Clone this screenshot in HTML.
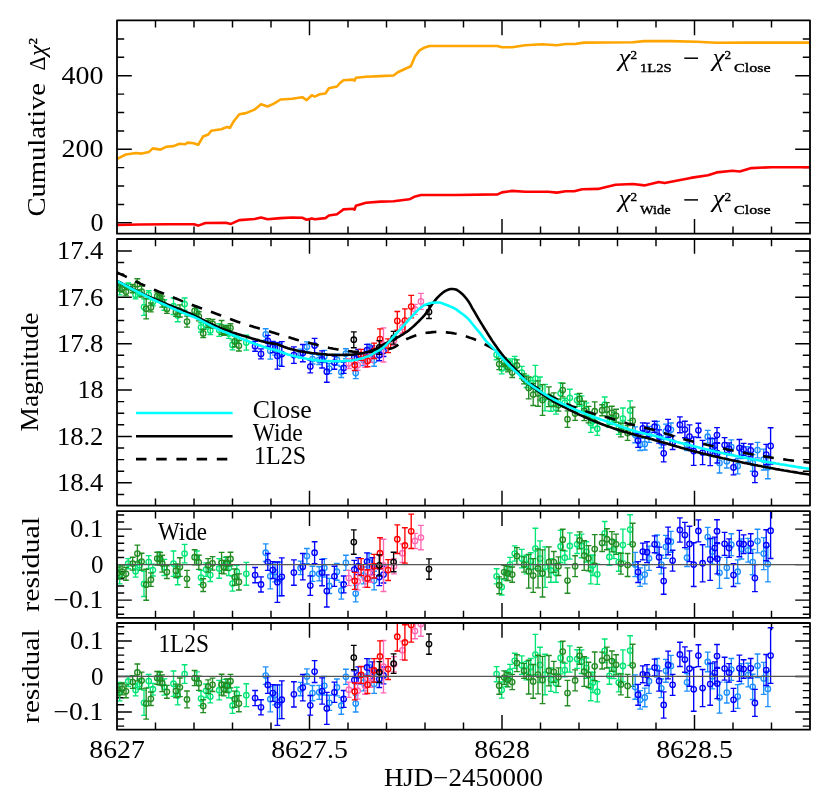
<!DOCTYPE html>
<html><head><meta charset="utf-8"><title>plot</title>
<style>html,body{margin:0;padding:0;background:#fff}svg{display:block}text{font-family:"Liberation Serif",serif;fill:#000}</style></head><body>
<svg width="830" height="800" viewBox="0 0 830 800">
<rect width="830" height="800" fill="#fff"/>
<defs>
<clipPath id="c1"><rect x="117.0" y="20.4" width="693.0" height="213.3"/></clipPath>
<clipPath id="c2"><rect x="117.0" y="239.0" width="693.0" height="266.6"/></clipPath>
<clipPath id="c3"><rect x="117.0" y="511.2" width="693.0" height="106.7"/></clipPath>
<clipPath id="c4"><rect x="117.0" y="623.0" width="693.0" height="106.7"/></clipPath>
</defs>
<g fill="none" stroke="#000" stroke-width="1.45">
<path d="M155.5 20.4v7.2M155.5 233.7v-7.2 M194.0 20.4v7.2M194.0 233.7v-7.2 M232.5 20.4v7.2M232.5 233.7v-7.2 M271.0 20.4v7.2M271.0 233.7v-7.2 M309.5 20.4v14.8M309.5 233.7v-14.8 M348.0 20.4v7.2M348.0 233.7v-7.2 M386.5 20.4v7.2M386.5 233.7v-7.2 M425.0 20.4v7.2M425.0 233.7v-7.2 M463.5 20.4v7.2M463.5 233.7v-7.2 M502.0 20.4v14.8M502.0 233.7v-14.8 M540.5 20.4v7.2M540.5 233.7v-7.2 M579.0 20.4v7.2M579.0 233.7v-7.2 M617.5 20.4v7.2M617.5 233.7v-7.2 M656.0 20.4v7.2M656.0 233.7v-7.2 M694.5 20.4v14.8M694.5 233.7v-14.8 M733.0 20.4v7.2M733.0 233.7v-7.2 M771.5 20.4v7.2M771.5 233.7v-7.2"/>
<path d="M117.0 222.8h14.8M810.0 222.8h-14.8 M117.0 204.4h7.2M810.0 204.4h-7.2 M117.0 186.0h7.2M810.0 186.0h-7.2 M117.0 167.6h7.2M810.0 167.6h-7.2 M117.0 149.2h14.8M810.0 149.2h-14.8 M117.0 130.9h7.2M810.0 130.9h-7.2 M117.0 112.5h7.2M810.0 112.5h-7.2 M117.0 94.1h7.2M810.0 94.1h-7.2 M117.0 75.7h14.8M810.0 75.7h-14.8 M117.0 57.3h7.2M810.0 57.3h-7.2 M117.0 38.9h7.2M810.0 38.9h-7.2"/>
<path d="M155.5 239.0v7.2M155.5 505.6v-7.2 M194.0 239.0v7.2M194.0 505.6v-7.2 M232.5 239.0v7.2M232.5 505.6v-7.2 M271.0 239.0v7.2M271.0 505.6v-7.2 M309.5 239.0v14.8M309.5 505.6v-14.8 M348.0 239.0v7.2M348.0 505.6v-7.2 M386.5 239.0v7.2M386.5 505.6v-7.2 M425.0 239.0v7.2M425.0 505.6v-7.2 M463.5 239.0v7.2M463.5 505.6v-7.2 M502.0 239.0v14.8M502.0 505.6v-14.8 M540.5 239.0v7.2M540.5 505.6v-7.2 M579.0 239.0v7.2M579.0 505.6v-7.2 M617.5 239.0v7.2M617.5 505.6v-7.2 M656.0 239.0v7.2M656.0 505.6v-7.2 M694.5 239.0v14.8M694.5 505.6v-14.8 M733.0 239.0v7.2M733.0 505.6v-7.2 M771.5 239.0v7.2M771.5 505.6v-7.2"/>
<path d="M117.0 250.9h14.8M810.0 250.9h-14.8 M117.0 262.5h7.2M810.0 262.5h-7.2 M117.0 274.1h7.2M810.0 274.1h-7.2 M117.0 285.7h7.2M810.0 285.7h-7.2 M117.0 297.3h14.8M810.0 297.3h-14.8 M117.0 308.9h7.2M810.0 308.9h-7.2 M117.0 320.5h7.2M810.0 320.5h-7.2 M117.0 332.1h7.2M810.0 332.1h-7.2 M117.0 343.7h14.8M810.0 343.7h-14.8 M117.0 355.3h7.2M810.0 355.3h-7.2 M117.0 366.9h7.2M810.0 366.9h-7.2 M117.0 378.4h7.2M810.0 378.4h-7.2 M117.0 390.0h14.8M810.0 390.0h-14.8 M117.0 401.6h7.2M810.0 401.6h-7.2 M117.0 413.2h7.2M810.0 413.2h-7.2 M117.0 424.8h7.2M810.0 424.8h-7.2 M117.0 436.4h14.8M810.0 436.4h-14.8 M117.0 448.0h7.2M810.0 448.0h-7.2 M117.0 459.6h7.2M810.0 459.6h-7.2 M117.0 471.2h7.2M810.0 471.2h-7.2 M117.0 482.8h14.8M810.0 482.8h-14.8 M117.0 494.4h7.2M810.0 494.4h-7.2"/>
<path d="M155.5 511.2v7.2M155.5 617.9v-7.2 M194.0 511.2v7.2M194.0 617.9v-7.2 M232.5 511.2v7.2M232.5 617.9v-7.2 M271.0 511.2v7.2M271.0 617.9v-7.2 M309.5 511.2v14.8M309.5 617.9v-14.8 M348.0 511.2v7.2M348.0 617.9v-7.2 M386.5 511.2v7.2M386.5 617.9v-7.2 M425.0 511.2v7.2M425.0 617.9v-7.2 M463.5 511.2v7.2M463.5 617.9v-7.2 M502.0 511.2v14.8M502.0 617.9v-14.8 M540.5 511.2v7.2M540.5 617.9v-7.2 M579.0 511.2v7.2M579.0 617.9v-7.2 M617.5 511.2v7.2M617.5 617.9v-7.2 M656.0 511.2v7.2M656.0 617.9v-7.2 M694.5 511.2v14.8M694.5 617.9v-14.8 M733.0 511.2v7.2M733.0 617.9v-7.2 M771.5 511.2v7.2M771.5 617.9v-7.2"/>
<path d="M117.0 614.3h7.2M810.0 614.3h-7.2 M117.0 607.2h7.2M810.0 607.2h-7.2 M117.0 600.1h14.8M810.0 600.1h-14.8 M117.0 593.0h7.2M810.0 593.0h-7.2 M117.0 585.9h7.2M810.0 585.9h-7.2 M117.0 578.8h7.2M810.0 578.8h-7.2 M117.0 571.7h7.2M810.0 571.7h-7.2 M117.0 564.6h14.8M810.0 564.6h-14.8 M117.0 557.5h7.2M810.0 557.5h-7.2 M117.0 550.4h7.2M810.0 550.4h-7.2 M117.0 543.3h7.2M810.0 543.3h-7.2 M117.0 536.2h7.2M810.0 536.2h-7.2 M117.0 529.1h14.8M810.0 529.1h-14.8 M117.0 522.0h7.2M810.0 522.0h-7.2 M117.0 514.9h7.2M810.0 514.9h-7.2"/>
<path d="M155.5 623.0v7.2M155.5 729.8v-7.2 M194.0 623.0v7.2M194.0 729.8v-7.2 M232.5 623.0v7.2M232.5 729.8v-7.2 M271.0 623.0v7.2M271.0 729.8v-7.2 M309.5 623.0v14.8M309.5 729.8v-14.8 M348.0 623.0v7.2M348.0 729.8v-7.2 M386.5 623.0v7.2M386.5 729.8v-7.2 M425.0 623.0v7.2M425.0 729.8v-7.2 M463.5 623.0v7.2M463.5 729.8v-7.2 M502.0 623.0v14.8M502.0 729.8v-14.8 M540.5 623.0v7.2M540.5 729.8v-7.2 M579.0 623.0v7.2M579.0 729.8v-7.2 M617.5 623.0v7.2M617.5 729.8v-7.2 M656.0 623.0v7.2M656.0 729.8v-7.2 M694.5 623.0v14.8M694.5 729.8v-14.8 M733.0 623.0v7.2M733.0 729.8v-7.2 M771.5 623.0v7.2M771.5 729.8v-7.2"/>
<path d="M117.0 726.1h7.2M810.0 726.1h-7.2 M117.0 719.0h7.2M810.0 719.0h-7.2 M117.0 711.9h14.8M810.0 711.9h-14.8 M117.0 704.8h7.2M810.0 704.8h-7.2 M117.0 697.7h7.2M810.0 697.7h-7.2 M117.0 690.6h7.2M810.0 690.6h-7.2 M117.0 683.5h7.2M810.0 683.5h-7.2 M117.0 676.4h14.8M810.0 676.4h-14.8 M117.0 669.3h7.2M810.0 669.3h-7.2 M117.0 662.2h7.2M810.0 662.2h-7.2 M117.0 655.1h7.2M810.0 655.1h-7.2 M117.0 648.0h7.2M810.0 648.0h-7.2 M117.0 640.9h14.8M810.0 640.9h-14.8 M117.0 633.8h7.2M810.0 633.8h-7.2 M117.0 626.7h7.2M810.0 626.7h-7.2"/>
</g>
<g clip-path="url(#c1)" fill="none" stroke-linejoin="round" stroke-width="2.6">
<polyline stroke="#ffa500" points="117.2,158.8 125.9,154.5 136.0,153.0 141.8,153.6 149.0,151.9 152.8,148.4 160.6,149.6 166.4,146.7 173.6,146.1 179.4,143.8 185.2,144.3 187.5,142.6 193.9,143.2 198.2,144.9 203.1,136.5 208.3,134.5 211.2,130.8 221.3,129.3 227.1,127.0 230.0,127.9 233.8,121.2 239.3,114.3 245.9,113.1 254.6,109.6 261.0,104.2 267.6,106.5 273.4,103.9 280.6,99.5 292.2,98.7 302.3,97.2 306.6,100.1 311.8,95.2 314.7,96.6 319.7,94.3 325.4,93.5 328.9,88.2 337.0,86.5 340.0,83.0 343.5,80.2 353.0,79.6 354.5,80.7 355.9,77.8 366.0,76.7 380.5,76.1 393.5,75.5 397.8,72.3 410.8,66.3 415.2,56.1 419.5,50.4 423.9,47.8 429.6,46.0 455.7,46.0 497.6,46.0 501.9,47.2 512.1,47.2 525.1,45.2 542.4,44.3 556.9,45.2 565.6,44.0 575.0,44.0 583.7,42.6 632.8,42.3 644.4,41.1 670.4,41.1 696.5,41.7 716.7,42.8 748.5,42.6 809.2,42.6"/>
<polyline stroke="#ff0000" points="117.2,225.0 139.0,224.5 167.8,224.2 193.9,224.2 198.2,225.6 205.4,223.0 225.7,222.7 230.9,223.9 239.3,220.1 254.6,219.0 261.0,217.5 267.6,219.2 280.6,218.1 292.2,217.5 302.3,217.8 306.6,219.8 311.8,218.4 314.7,219.2 325.4,218.1 328.9,215.5 337.0,214.3 340.0,212.0 343.5,209.4 353.0,208.8 354.5,209.7 355.9,205.7 366.0,202.8 380.5,201.6 393.5,201.3 409.4,199.3 415.2,196.4 421.0,195.0 455.7,195.0 497.6,194.4 501.9,192.4 512.1,190.9 525.1,191.8 548.2,191.8 556.9,192.6 565.6,191.2 574.2,191.2 582.2,189.2 598.1,188.9 615.5,184.8 632.8,184.0 644.4,185.4 658.9,181.9 664.6,183.1 690.7,177.9 708.0,175.3 716.7,172.4 732.6,170.7 739.8,171.5 751.4,168.1 771.6,167.2 809.2,167.2"/>
</g>
<g clip-path="url(#c2)" fill="none" stroke-width="1.35">
<g stroke="#00e676"><path d="M119.7 282.8V294.9M116.8 282.8H122.6M116.8 294.9H122.6"/><circle cx="119.7" cy="288.9" r="2.7"/></g>
<g stroke="#00e676"><path d="M128.2 282.9V289.5M125.3 282.9H131.1M125.3 289.5H131.1"/><circle cx="128.2" cy="286.2" r="2.7"/></g>
<g stroke="#00e676"><path d="M135.6 291.1V298.8M132.7 291.1H138.5M132.7 298.8H138.5"/><circle cx="135.6" cy="294.9" r="2.7"/></g>
<g stroke="#00e676"><path d="M139.5 289.6V296.2M136.6 289.6H142.4M136.6 296.2H142.4"/><circle cx="139.5" cy="292.9" r="2.7"/></g>
<g stroke="#00e676"><path d="M144.0 298.9V315.4M141.1 298.9H146.9M141.1 315.4H146.9"/><circle cx="144.0" cy="307.1" r="2.7"/></g>
<g stroke="#00e676"><path d="M148.7 290.7V299.1M145.8 290.7H151.6M145.8 299.1H151.6"/><circle cx="148.7" cy="294.9" r="2.7"/></g>
<g stroke="#00e676"><path d="M152.9 298.1V305.8M150.0 298.1H155.8M150.0 305.8H155.8"/><circle cx="152.9" cy="302.0" r="2.7"/></g>
<g stroke="#00e676"><path d="M159.2 292.7V301.5M156.3 292.7H162.1M156.3 301.5H162.1"/><circle cx="159.2" cy="297.1" r="2.7"/></g>
<g stroke="#00e676"><path d="M164.4 299.7V310.2M161.5 299.7H167.3M161.5 310.2H167.3"/><circle cx="164.4" cy="305.0" r="2.7"/></g>
<g stroke="#00e676"><path d="M173.5 298.0V314.5M170.6 298.0H176.4M170.6 314.5H176.4"/><circle cx="173.5" cy="306.2" r="2.7"/></g>
<g stroke="#00e676"><path d="M177.7 309.6V321.7M174.8 309.6H180.6M174.8 321.7H180.6"/><circle cx="177.7" cy="315.6" r="2.7"/></g>
<g stroke="#00e676"><path d="M184.6 298.0V310.2M181.7 298.0H187.5M181.7 310.2H187.5"/><circle cx="184.6" cy="304.1" r="2.7"/></g>
<g stroke="#00e676"><path d="M196.8 307.9V316.7M193.9 307.9H199.7M193.9 316.7H199.7"/><circle cx="196.8" cy="312.3" r="2.7"/></g>
<g stroke="#00e676"><path d="M201.0 322.7V332.0M198.1 322.7H203.9M198.1 332.0H203.9"/><circle cx="201.0" cy="327.3" r="2.7"/></g>
<g stroke="#00e676"><path d="M206.1 320.3V329.1M203.2 320.3H209.0M203.2 329.1H209.0"/><circle cx="206.1" cy="324.7" r="2.7"/></g>
<g stroke="#00e676"><path d="M210.3 326.2V334.6M207.4 326.2H213.2M207.4 334.6H213.2"/><circle cx="210.3" cy="330.4" r="2.7"/></g>
<g stroke="#00e676"><path d="M219.2 323.7V336.4M216.3 323.7H222.1M216.3 336.4H222.1"/><circle cx="219.2" cy="330.0" r="2.7"/></g>
<g stroke="#00e676"><path d="M225.5 325.2V333.6M222.6 325.2H228.4M222.6 333.6H228.4"/><circle cx="225.5" cy="329.4" r="2.7"/></g>
<g stroke="#00e676"><path d="M228.8 328.4V338.3M225.9 328.4H231.7M225.9 338.3H231.7"/><circle cx="228.8" cy="333.4" r="2.7"/></g>
<g stroke="#00e676"><path d="M232.5 339.9V349.8M229.6 339.9H235.4M229.6 349.8H235.4"/><circle cx="232.5" cy="344.9" r="2.7"/></g>
<g stroke="#00e676"><path d="M236.8 334.3V342.7M233.9 334.3H239.7M233.9 342.7H239.7"/><circle cx="236.8" cy="338.5" r="2.7"/></g>
<g stroke="#00e676"><path d="M246.3 335.2V350.1M243.4 335.2H249.2M243.4 350.1H249.2"/><circle cx="246.3" cy="342.6" r="2.7"/></g>
<g stroke="#00e676"><path d="M496.6 349.8V359.7M493.7 349.8H499.5M493.7 359.7H499.5"/><circle cx="496.6" cy="354.8" r="2.7"/></g>
<g stroke="#00e676"><path d="M501.7 363.2V373.8M498.8 363.2H504.6M498.8 373.8H504.6"/><circle cx="501.7" cy="368.5" r="2.7"/></g>
<g stroke="#00e676"><path d="M506.3 360.0V370.0M503.4 360.0H509.2M503.4 370.0H509.2"/><circle cx="506.3" cy="365.0" r="2.7"/></g>
<g stroke="#00e676"><path d="M510.0 358.9V368.2M507.1 358.9H512.9M507.1 368.2H512.9"/><circle cx="510.0" cy="363.6" r="2.7"/></g>
<g stroke="#00e676"><path d="M514.7 356.4V366.4M511.8 356.4H517.6M511.8 366.4H517.6"/><circle cx="514.7" cy="361.4" r="2.7"/></g>
<g stroke="#00e676"><path d="M521.8 366.4V378.5M518.9 366.4H524.7M518.9 378.5H524.7"/><circle cx="521.8" cy="372.5" r="2.7"/></g>
<g stroke="#00e676"><path d="M526.5 375.4V387.5M523.6 375.4H529.4M523.6 387.5H529.4"/><circle cx="526.5" cy="381.5" r="2.7"/></g>
<g stroke="#00e676"><path d="M530.7 377.6V388.6M527.8 377.6H533.6M527.8 388.6H533.6"/><circle cx="530.7" cy="383.1" r="2.7"/></g>
<g stroke="#00e676"><path d="M535.4 365.4V391.8M532.5 365.4H538.3M532.5 391.8H538.3"/><circle cx="535.4" cy="378.6" r="2.7"/></g>
<g stroke="#00e676"><path d="M540.0 377.0V400.1M537.1 377.0H542.9M537.1 400.1H542.9"/><circle cx="540.0" cy="388.6" r="2.7"/></g>
<g stroke="#00e676"><path d="M545.0 384.3V410.8M542.1 384.3H547.9M542.1 410.8H547.9"/><circle cx="545.0" cy="397.5" r="2.7"/></g>
<g stroke="#00e676"><path d="M550.9 395.7V411.2M548.0 395.7H553.8M548.0 411.2H553.8"/><circle cx="550.9" cy="403.5" r="2.7"/></g>
<g stroke="#00e676"><path d="M556.0 402.0V414.1M553.1 402.0H558.9M553.1 414.1H558.9"/><circle cx="556.0" cy="408.1" r="2.7"/></g>
<g stroke="#00e676"><path d="M560.6 382.8V403.8M557.7 382.8H563.5M557.7 403.8H563.5"/><circle cx="560.6" cy="393.3" r="2.7"/></g>
<g stroke="#00e676"><path d="M564.8 398.5V407.3M561.9 398.5H567.7M561.9 407.3H567.7"/><circle cx="564.8" cy="402.9" r="2.7"/></g>
<g stroke="#00e676"><path d="M569.8 389.2V406.4M566.9 389.2H572.7M566.9 406.4H572.7"/><circle cx="569.8" cy="397.8" r="2.7"/></g>
<g stroke="#00e676"><path d="M577.1 394.2V406.3M574.2 394.2H580.0M574.2 406.3H580.0"/><circle cx="577.1" cy="400.3" r="2.7"/></g>
<g stroke="#00e676"><path d="M581.6 395.8V411.2M578.7 395.8H584.5M578.7 411.2H584.5"/><circle cx="581.6" cy="403.5" r="2.7"/></g>
<g stroke="#00e676"><path d="M586.4 402.9V416.1M583.5 402.9H589.3M583.5 416.1H589.3"/><circle cx="586.4" cy="409.5" r="2.7"/></g>
<g stroke="#00e676"><path d="M590.8 413.6V432.4M587.9 413.6H593.7M587.9 432.4H593.7"/><circle cx="590.8" cy="423.0" r="2.7"/></g>
<g stroke="#00e676"><path d="M592.9 414.5V427.7M590.0 414.5H595.8M590.0 427.7H595.8"/><circle cx="592.9" cy="421.1" r="2.7"/></g>
<g stroke="#00e676"><path d="M597.3 422.1V435.3M594.4 422.1H600.2M594.4 435.3H600.2"/><circle cx="597.3" cy="428.7" r="2.7"/></g>
<g stroke="#00e676"><path d="M604.7 397.0V412.5M601.8 397.0H607.6M601.8 412.5H607.6"/><circle cx="604.7" cy="404.7" r="2.7"/></g>
<g stroke="#00e676"><path d="M609.4 416.3V427.3M606.5 416.3H612.3M606.5 427.3H612.3"/><circle cx="609.4" cy="421.8" r="2.7"/></g>
<g stroke="#00e676"><path d="M613.9 412.4V424.5M611.0 412.4H616.8M611.0 424.5H616.8"/><circle cx="613.9" cy="418.4" r="2.7"/></g>
<g stroke="#00e676"><path d="M618.7 422.1V434.3M615.8 422.1H621.6M615.8 434.3H621.6"/><circle cx="618.7" cy="428.2" r="2.7"/></g>
<g stroke="#00e676"><path d="M622.9 408.0V429.0M620.0 408.0H625.8M620.0 429.0H625.8"/><circle cx="622.9" cy="418.5" r="2.7"/></g>
<g stroke="#00e676"><path d="M630.1 400.9V420.3M627.2 400.9H633.0M627.2 420.3H633.0"/><circle cx="630.1" cy="410.6" r="2.7"/></g>
<g stroke="#228b22"><path d="M118.0 283.0V290.7M115.1 283.0H120.9M115.1 290.7H120.9"/><circle cx="118.0" cy="286.8" r="2.7"/></g>
<g stroke="#228b22"><path d="M122.1 284.4V292.1M119.2 284.4H125.0M119.2 292.1H125.0"/><circle cx="122.1" cy="288.3" r="2.7"/></g>
<g stroke="#228b22"><path d="M126.0 287.5V295.9M123.1 287.5H128.9M123.1 295.9H128.9"/><circle cx="126.0" cy="291.7" r="2.7"/></g>
<g stroke="#228b22"><path d="M132.7 284.4V292.7M129.8 284.4H135.6M129.8 292.7H135.6"/><circle cx="132.7" cy="288.5" r="2.7"/></g>
<g stroke="#228b22"><path d="M137.4 278.7V289.8M134.5 278.7H140.3M134.5 289.8H140.3"/><circle cx="137.4" cy="284.2" r="2.7"/></g>
<g stroke="#228b22"><path d="M141.6 286.0V297.0M138.7 286.0H144.5M138.7 297.0H144.5"/><circle cx="141.6" cy="291.5" r="2.7"/></g>
<g stroke="#228b22"><path d="M146.2 298.5V318.8M143.3 298.5H149.1M143.3 318.8H149.1"/><circle cx="146.2" cy="308.7" r="2.7"/></g>
<g stroke="#228b22"><path d="M150.9 303.0V311.8M148.0 303.0H153.8M148.0 311.8H153.8"/><circle cx="150.9" cy="307.4" r="2.7"/></g>
<g stroke="#228b22"><path d="M157.2 292.0V300.4M154.3 292.0H160.1M154.3 300.4H160.1"/><circle cx="157.2" cy="296.2" r="2.7"/></g>
<g stroke="#228b22"><path d="M160.2 293.5V301.9M157.3 293.5H163.1M157.3 301.9H163.1"/><circle cx="160.2" cy="297.7" r="2.7"/></g>
<g stroke="#228b22"><path d="M162.2 296.1V307.1M159.3 296.1H165.1M159.3 307.1H165.1"/><circle cx="162.2" cy="301.6" r="2.7"/></g>
<g stroke="#228b22"><path d="M166.9 304.9V313.3M164.0 304.9H169.8M164.0 313.3H169.8"/><circle cx="166.9" cy="309.1" r="2.7"/></g>
<g stroke="#228b22"><path d="M176.0 307.5V316.3M173.1 307.5H178.9M173.1 316.3H178.9"/><circle cx="176.0" cy="311.9" r="2.7"/></g>
<g stroke="#228b22"><path d="M179.9 304.9V317.0M177.0 304.9H182.8M177.0 317.0H182.8"/><circle cx="179.9" cy="311.0" r="2.7"/></g>
<g stroke="#228b22"><path d="M187.0 316.1V327.1M184.1 316.1H189.9M184.1 327.1H189.9"/><circle cx="187.0" cy="321.6" r="2.7"/></g>
<g stroke="#228b22"><path d="M194.6 305.9V315.9M191.7 305.9H197.5M191.7 315.9H197.5"/><circle cx="194.6" cy="310.9" r="2.7"/></g>
<g stroke="#228b22"><path d="M198.8 311.7V320.9M195.9 311.7H201.7M195.9 320.9H201.7"/><circle cx="198.8" cy="316.3" r="2.7"/></g>
<g stroke="#228b22"><path d="M203.2 329.2V337.6M200.3 329.2H206.1M200.3 337.6H206.1"/><circle cx="203.2" cy="333.4" r="2.7"/></g>
<g stroke="#228b22"><path d="M208.1 318.6V327.4M205.2 318.6H211.0M205.2 327.4H211.0"/><circle cx="208.1" cy="323.0" r="2.7"/></g>
<g stroke="#228b22"><path d="M212.5 319.3V328.1M209.6 319.3H215.4M209.6 328.1H215.4"/><circle cx="212.5" cy="323.7" r="2.7"/></g>
<g stroke="#228b22"><path d="M221.6 320.5V334.2M218.7 320.5H224.5M218.7 334.2H224.5"/><circle cx="221.6" cy="327.4" r="2.7"/></g>
<g stroke="#228b22"><path d="M223.8 326.6V335.4M220.9 326.6H226.7M220.9 335.4H226.7"/><circle cx="223.8" cy="331.0" r="2.7"/></g>
<g stroke="#228b22"><path d="M227.1 325.6V334.4M224.2 325.6H230.0M224.2 334.4H230.0"/><circle cx="227.1" cy="330.0" r="2.7"/></g>
<g stroke="#228b22"><path d="M230.5 323.7V332.5M227.6 323.7H233.4M227.6 332.5H233.4"/><circle cx="230.5" cy="328.1" r="2.7"/></g>
<g stroke="#228b22"><path d="M234.7 336.1V346.7M231.8 336.1H237.6M231.8 346.7H237.6"/><circle cx="234.7" cy="341.4" r="2.7"/></g>
<g stroke="#228b22"><path d="M238.9 340.5V351.0M236.0 340.5H241.8M236.0 351.0H241.8"/><circle cx="238.9" cy="345.8" r="2.7"/></g>
<g stroke="#228b22"><path d="M499.2 358.5V369.6M496.3 358.5H502.1M496.3 369.6H502.1"/><circle cx="499.2" cy="364.0" r="2.7"/></g>
<g stroke="#228b22"><path d="M504.2 357.7V366.5M501.3 357.7H507.1M501.3 366.5H507.1"/><circle cx="504.2" cy="362.1" r="2.7"/></g>
<g stroke="#228b22"><path d="M507.9 362.6V371.8M505.0 362.6H510.8M505.0 371.8H510.8"/><circle cx="507.9" cy="367.2" r="2.7"/></g>
<g stroke="#228b22"><path d="M512.2 367.6V377.5M509.3 367.6H515.1M509.3 377.5H515.1"/><circle cx="512.2" cy="372.5" r="2.7"/></g>
<g stroke="#228b22"><path d="M516.9 359.9V370.9M514.0 359.9H519.8M514.0 370.9H519.8"/><circle cx="516.9" cy="365.4" r="2.7"/></g>
<g stroke="#228b22"><path d="M524.0 373.8V383.8M521.1 373.8H526.9M521.1 383.8H526.9"/><circle cx="524.0" cy="378.8" r="2.7"/></g>
<g stroke="#228b22"><path d="M528.7 376.9V398.9M525.8 376.9H531.6M525.8 398.9H531.6"/><circle cx="528.7" cy="387.9" r="2.7"/></g>
<g stroke="#228b22"><path d="M533.2 383.5V405.5M530.3 383.5H536.1M530.3 405.5H536.1"/><circle cx="533.2" cy="394.5" r="2.7"/></g>
<g stroke="#228b22"><path d="M538.0 380.8V406.2M535.1 380.8H540.9M535.1 406.2H540.9"/><circle cx="538.0" cy="393.5" r="2.7"/></g>
<g stroke="#228b22"><path d="M542.5 384.6V415.4M539.6 384.6H545.4M539.6 415.4H545.4"/><circle cx="542.5" cy="400.0" r="2.7"/></g>
<g stroke="#228b22"><path d="M548.9 386.8V406.6M546.0 386.8H551.8M546.0 406.6H551.8"/><circle cx="548.9" cy="396.7" r="2.7"/></g>
<g stroke="#228b22"><path d="M553.8 392.8V406.5M550.9 392.8H556.7M550.9 406.5H556.7"/><circle cx="553.8" cy="399.7" r="2.7"/></g>
<g stroke="#228b22"><path d="M558.5 399.0V411.1M555.6 399.0H561.4M555.6 411.1H561.4"/><circle cx="558.5" cy="405.1" r="2.7"/></g>
<g stroke="#228b22"><path d="M562.7 383.2V396.9M559.8 383.2H565.6M559.8 396.9H565.6"/><circle cx="562.7" cy="390.0" r="2.7"/></g>
<g stroke="#228b22"><path d="M567.5 410.9V427.4M564.6 410.9H570.4M564.6 427.4H570.4"/><circle cx="567.5" cy="419.2" r="2.7"/></g>
<g stroke="#228b22"><path d="M575.1 406.8V420.4M572.2 406.8H578.0M572.2 420.4H578.0"/><circle cx="575.1" cy="413.6" r="2.7"/></g>
<g stroke="#228b22"><path d="M579.6 393.4V404.4M576.7 393.4H582.5M576.7 404.4H582.5"/><circle cx="579.6" cy="398.9" r="2.7"/></g>
<g stroke="#228b22"><path d="M584.2 401.2V420.6M581.3 401.2H587.1M581.3 420.6H587.1"/><circle cx="584.2" cy="410.9" r="2.7"/></g>
<g stroke="#228b22"><path d="M588.5 406.4V422.9M585.6 406.4H591.4M585.6 422.9H591.4"/><circle cx="588.5" cy="414.6" r="2.7"/></g>
<g stroke="#228b22"><path d="M594.7 401.8V420.5M591.8 401.8H597.6M591.8 420.5H597.6"/><circle cx="594.7" cy="411.2" r="2.7"/></g>
<g stroke="#228b22"><path d="M602.1 404.7V415.7M599.2 404.7H605.0M599.2 415.7H605.0"/><circle cx="602.1" cy="410.2" r="2.7"/></g>
<g stroke="#228b22"><path d="M606.9 402.6V416.2M604.0 402.6H609.8M604.0 416.2H609.8"/><circle cx="606.9" cy="409.4" r="2.7"/></g>
<g stroke="#228b22"><path d="M611.9 406.2V419.4M609.0 406.2H614.8M609.0 419.4H614.8"/><circle cx="611.9" cy="412.8" r="2.7"/></g>
<g stroke="#228b22"><path d="M616.1 409.2V422.4M613.2 409.2H619.0M613.2 422.4H619.0"/><circle cx="616.1" cy="415.8" r="2.7"/></g>
<g stroke="#228b22"><path d="M620.9 423.2V436.8M618.0 423.2H623.8M618.0 436.8H623.8"/><circle cx="620.9" cy="430.0" r="2.7"/></g>
<g stroke="#228b22"><path d="M627.6 425.5V440.4M624.7 425.5H630.5M624.7 440.4H630.5"/><circle cx="627.6" cy="432.9" r="2.7"/></g>
<g stroke="#228b22"><path d="M632.7 407.1V434.6M629.8 407.1H635.6M629.8 434.6H635.6"/><circle cx="632.7" cy="420.9" r="2.7"/></g>
<g stroke="#1e90ff"><path d="M265.7 328.7V340.2M262.8 328.7H268.6M262.8 340.2H268.6"/><circle cx="265.7" cy="334.4" r="2.7"/></g>
<g stroke="#1e90ff"><path d="M270.3 342.5V359.1M267.4 342.5H273.2M267.4 359.1H273.2"/><circle cx="270.3" cy="350.8" r="2.7"/></g>
<g stroke="#1e90ff"><path d="M275.0 342.3V355.1M272.1 342.3H277.9M272.1 355.1H277.9"/><circle cx="275.0" cy="348.7" r="2.7"/></g>
<g stroke="#1e90ff"><path d="M279.6 343.4V365.4M276.7 343.4H282.5M276.7 365.4H282.5"/><circle cx="279.6" cy="354.4" r="2.7"/></g>
<g stroke="#1e90ff"><path d="M300.6 349.1V357.9M297.7 349.1H303.5M297.7 357.9H303.5"/><circle cx="300.6" cy="353.5" r="2.7"/></g>
<g stroke="#1e90ff"><path d="M306.9 341.8V351.7M304.0 341.8H309.8M304.0 351.7H309.8"/><circle cx="306.9" cy="346.8" r="2.7"/></g>
<g stroke="#1e90ff"><path d="M312.5 354.1V364.0M309.6 354.1H315.4M309.6 364.0H315.4"/><circle cx="312.5" cy="359.1" r="2.7"/></g>
<g stroke="#1e90ff"><path d="M319.2 355.2V364.5M316.3 355.2H322.1M316.3 364.5H322.1"/><circle cx="319.2" cy="359.9" r="2.7"/></g>
<g stroke="#1e90ff"><path d="M324.3 350.4V362.5M321.4 350.4H327.2M321.4 362.5H327.2"/><circle cx="324.3" cy="356.5" r="2.7"/></g>
<g stroke="#1e90ff"><path d="M329.3 363.6V373.6M326.4 363.6H332.2M326.4 373.6H332.2"/><circle cx="329.3" cy="368.6" r="2.7"/></g>
<g stroke="#1e90ff"><path d="M336.9 354.2V365.2M334.0 354.2H339.8M334.0 365.2H339.8"/><circle cx="336.9" cy="359.7" r="2.7"/></g>
<g stroke="#1e90ff"><path d="M345.9 348.7V358.7M343.0 348.7H348.8M343.0 358.7H348.8"/><circle cx="345.9" cy="353.7" r="2.7"/></g>
<g stroke="#1e90ff"><path d="M341.3 366.5V377.5M338.4 366.5H344.2M338.4 377.5H344.2"/><circle cx="341.3" cy="372.0" r="2.7"/></g>
<g stroke="#1e90ff"><path d="M355.7 367.6V378.6M352.8 367.6H358.6M352.8 378.6H358.6"/><circle cx="355.7" cy="373.1" r="2.7"/></g>
<g stroke="#1e90ff"><path d="M363.6 354.5V365.5M360.7 354.5H366.5M360.7 365.5H366.5"/><circle cx="363.6" cy="360.0" r="2.7"/></g>
<g stroke="#1e90ff"><path d="M369.0 344.2V355.2M366.1 344.2H371.9M366.1 355.2H371.9"/><circle cx="369.0" cy="349.7" r="2.7"/></g>
<g stroke="#1e90ff"><path d="M374.1 354.1V366.2M371.2 354.1H377.0M371.2 366.2H377.0"/><circle cx="374.1" cy="360.2" r="2.7"/></g>
<g stroke="#1e90ff"><path d="M635.2 426.9V442.7M632.3 426.9H638.1M632.3 442.7H638.1"/><circle cx="635.2" cy="434.8" r="2.7"/></g>
<g stroke="#1e90ff"><path d="M640.1 438.3V450.5M637.2 438.3H643.0M637.2 450.5H643.0"/><circle cx="640.1" cy="444.4" r="2.7"/></g>
<g stroke="#1e90ff"><path d="M644.8 437.9V450.0M641.9 437.9H647.7M641.9 450.0H647.7"/><circle cx="644.8" cy="444.0" r="2.7"/></g>
<g stroke="#1e90ff"><path d="M649.0 426.4V442.3M646.1 426.4H651.9M646.1 442.3H651.9"/><circle cx="649.0" cy="434.4" r="2.7"/></g>
<g stroke="#1e90ff"><path d="M657.1 421.4V433.5M654.2 421.4H660.0M654.2 433.5H660.0"/><circle cx="657.1" cy="427.4" r="2.7"/></g>
<g stroke="#1e90ff"><path d="M661.3 435.8V447.9M658.4 435.8H664.2M658.4 447.9H664.2"/><circle cx="661.3" cy="441.9" r="2.7"/></g>
<g stroke="#1e90ff"><path d="M665.9 424.1V439.1M663.0 424.1H668.8M663.0 439.1H668.8"/><circle cx="665.9" cy="431.6" r="2.7"/></g>
<g stroke="#1e90ff"><path d="M670.9 423.0V436.7M668.0 423.0H673.8M668.0 436.7H673.8"/><circle cx="670.9" cy="429.8" r="2.7"/></g>
<g stroke="#1e90ff"><path d="M687.0 439.1V450.6M684.1 439.1H689.9M684.1 450.6H689.9"/><circle cx="687.0" cy="444.9" r="2.7"/></g>
<g stroke="#1e90ff"><path d="M707.7 430.3V443.1M704.8 430.3H710.6M704.8 443.1H710.6"/><circle cx="707.7" cy="436.7" r="2.7"/></g>
<g stroke="#1e90ff"><path d="M712.4 439.0V455.5M709.5 439.0H715.3M709.5 455.5H715.3"/><circle cx="712.4" cy="447.2" r="2.7"/></g>
<g stroke="#1e90ff"><path d="M719.5 452.7V473.0M716.6 452.7H722.4M716.6 473.0H722.4"/><circle cx="719.5" cy="462.9" r="2.7"/></g>
<g stroke="#1e90ff"><path d="M726.8 454.4V468.0M723.9 454.4H729.7M723.9 468.0H729.7"/><circle cx="726.8" cy="461.2" r="2.7"/></g>
<g stroke="#1e90ff"><path d="M731.3 439.9V454.3M728.4 439.9H734.2M728.4 454.3H734.2"/><circle cx="731.3" cy="447.1" r="2.7"/></g>
<g stroke="#1e90ff"><path d="M737.7 458.4V473.8M734.8 458.4H740.6M734.8 473.8H740.6"/><circle cx="737.7" cy="466.1" r="2.7"/></g>
<g stroke="#1e90ff"><path d="M741.4 445.4V458.6M738.5 445.4H744.3M738.5 458.6H744.3"/><circle cx="741.4" cy="452.0" r="2.7"/></g>
<g stroke="#1e90ff"><path d="M748.2 446.6V462.0M745.3 446.6H751.1M745.3 462.0H751.1"/><circle cx="748.2" cy="454.3" r="2.7"/></g>
<g stroke="#1e90ff"><path d="M752.7 454.6V471.2M749.8 454.6H755.6M749.8 471.2H755.6"/><circle cx="752.7" cy="462.9" r="2.7"/></g>
<g stroke="#1e90ff"><path d="M757.5 442.4V457.8M754.6 442.4H760.4M754.6 457.8H760.4"/><circle cx="757.5" cy="450.1" r="2.7"/></g>
<g stroke="#1e90ff"><path d="M763.7 449.1V470.0M760.8 449.1H766.6M760.8 470.0H766.6"/><circle cx="763.7" cy="459.5" r="2.7"/></g>
<g stroke="#1e90ff"><path d="M767.9 455.6V478.7M765.0 455.6H770.8M765.0 478.7H770.8"/><circle cx="767.9" cy="467.2" r="2.7"/></g>
<g stroke="#0000ff"><path d="M255.1 341.2V351.2M252.2 341.2H258.0M252.2 351.2H258.0"/><circle cx="255.1" cy="346.2" r="2.7"/></g>
<g stroke="#0000ff"><path d="M261.0 348.9V358.9M258.1 348.9H263.9M258.1 358.9H263.9"/><circle cx="261.0" cy="353.9" r="2.7"/></g>
<g stroke="#0000ff"><path d="M267.8 335.4V346.5M264.9 335.4H270.7M264.9 346.5H270.7"/><circle cx="267.8" cy="340.9" r="2.7"/></g>
<g stroke="#0000ff"><path d="M272.8 341.5V352.6M269.9 341.5H275.7M269.9 352.6H275.7"/><circle cx="272.8" cy="347.0" r="2.7"/></g>
<g stroke="#0000ff"><path d="M277.4 342.7V369.1M274.5 342.7H280.3M274.5 369.1H280.3"/><circle cx="277.4" cy="355.9" r="2.7"/></g>
<g stroke="#0000ff"><path d="M281.8 341.6V366.3M278.9 341.6H284.7M278.9 366.3H284.7"/><circle cx="281.8" cy="354.0" r="2.7"/></g>
<g stroke="#0000ff"><path d="M293.9 346.8V363.4M291.0 346.8H296.8M291.0 363.4H296.8"/><circle cx="293.9" cy="355.1" r="2.7"/></g>
<g stroke="#0000ff"><path d="M302.8 344.5V361.7M299.9 344.5H305.7M299.9 361.7H305.7"/><circle cx="302.8" cy="353.1" r="2.7"/></g>
<g stroke="#0000ff"><path d="M310.3 360.1V372.9M307.4 360.1H313.2M307.4 372.9H313.2"/><circle cx="310.3" cy="366.5" r="2.7"/></g>
<g stroke="#0000ff"><path d="M314.6 338.4V352.7M311.7 338.4H317.5M311.7 352.7H317.5"/><circle cx="314.6" cy="345.6" r="2.7"/></g>
<g stroke="#0000ff"><path d="M322.1 350.8V368.0M319.2 350.8H325.0M319.2 368.0H325.0"/><circle cx="322.1" cy="359.4" r="2.7"/></g>
<g stroke="#0000ff"><path d="M326.8 361.3V382.2M323.9 361.3H329.7M323.9 382.2H329.7"/><circle cx="326.8" cy="371.7" r="2.7"/></g>
<g stroke="#0000ff"><path d="M334.4 356.0V369.2M331.5 356.0H337.3M331.5 369.2H337.3"/><circle cx="334.4" cy="362.6" r="2.7"/></g>
<g stroke="#0000ff"><path d="M343.7 362.4V373.4M340.8 362.4H346.6M340.8 373.4H346.6"/><circle cx="343.7" cy="367.9" r="2.7"/></g>
<g stroke="#0000ff"><path d="M354.3 351.6V363.7M351.4 351.6H357.2M351.4 363.7H357.2"/><circle cx="354.3" cy="357.6" r="2.7"/></g>
<g stroke="#0000ff"><path d="M358.2 349.4V360.4M355.3 349.4H361.1M355.3 360.4H361.1"/><circle cx="358.2" cy="354.9" r="2.7"/></g>
<g stroke="#0000ff"><path d="M367.0 344.3V355.8M364.1 344.3H369.9M364.1 355.8H369.9"/><circle cx="367.0" cy="350.1" r="2.7"/></g>
<g stroke="#0000ff"><path d="M372.4 345.9V356.9M369.5 345.9H375.3M369.5 356.9H375.3"/><circle cx="372.4" cy="351.4" r="2.7"/></g>
<g stroke="#0000ff"><path d="M379.3 349.6V360.7M376.4 349.6H382.2M376.4 360.7H382.2"/><circle cx="379.3" cy="355.2" r="2.7"/></g>
<g stroke="#0000ff"><path d="M383.5 345.5V356.5M380.6 345.5H386.4M380.6 356.5H386.4"/><circle cx="383.5" cy="351.0" r="2.7"/></g>
<g stroke="#0000ff"><path d="M638.1 433.7V447.4M635.2 433.7H641.0M635.2 447.4H641.0"/><circle cx="638.1" cy="440.6" r="2.7"/></g>
<g stroke="#0000ff"><path d="M642.8 422.9V433.9M639.9 422.9H645.7M639.9 433.9H645.7"/><circle cx="642.8" cy="428.4" r="2.7"/></g>
<g stroke="#0000ff"><path d="M647.0 423.1V436.7M644.1 423.1H649.9M644.1 436.7H649.9"/><circle cx="647.0" cy="429.9" r="2.7"/></g>
<g stroke="#0000ff"><path d="M654.6 421.2V432.2M651.7 421.2H657.5M651.7 432.2H657.5"/><circle cx="654.6" cy="426.7" r="2.7"/></g>
<g stroke="#0000ff"><path d="M659.1 429.9V443.1M656.2 429.9H662.0M656.2 443.1H662.0"/><circle cx="659.1" cy="436.5" r="2.7"/></g>
<g stroke="#0000ff"><path d="M663.7 444.8V461.9M660.8 444.8H666.6M660.8 461.9H666.6"/><circle cx="663.7" cy="453.3" r="2.7"/></g>
<g stroke="#0000ff"><path d="M668.1 419.4V437.5M665.2 419.4H671.0M665.2 437.5H671.0"/><circle cx="668.1" cy="428.4" r="2.7"/></g>
<g stroke="#0000ff"><path d="M672.6 435.8V449.5M669.7 435.8H675.5M669.7 449.5H675.5"/><circle cx="672.6" cy="442.7" r="2.7"/></g>
<g stroke="#0000ff"><path d="M679.9 416.8V432.7M677.0 416.8H682.8M677.0 432.7H682.8"/><circle cx="679.9" cy="424.7" r="2.7"/></g>
<g stroke="#0000ff"><path d="M684.9 421.2V437.7M682.0 421.2H687.8M682.0 437.7H687.8"/><circle cx="684.9" cy="429.5" r="2.7"/></g>
<g stroke="#0000ff"><path d="M689.5 424.9V448.1M686.6 424.9H692.4M686.6 448.1H692.4"/><circle cx="689.5" cy="436.5" r="2.7"/></g>
<g stroke="#0000ff"><path d="M693.7 436.8V465.4M690.8 436.8H696.6M690.8 465.4H696.6"/><circle cx="693.7" cy="451.1" r="2.7"/></g>
<g stroke="#0000ff"><path d="M698.4 423.2V437.5M695.5 423.2H701.3M695.5 437.5H701.3"/><circle cx="698.4" cy="430.3" r="2.7"/></g>
<g stroke="#0000ff"><path d="M702.6 440.4V464.6M699.7 440.4H705.5M699.7 464.6H705.5"/><circle cx="702.6" cy="452.5" r="2.7"/></g>
<g stroke="#0000ff"><path d="M710.2 438.1V465.6M707.3 438.1H713.1M707.3 465.6H713.1"/><circle cx="710.2" cy="451.9" r="2.7"/></g>
<g stroke="#0000ff"><path d="M714.8 438.4V452.7M711.9 438.4H717.7M711.9 452.7H717.7"/><circle cx="714.8" cy="445.6" r="2.7"/></g>
<g stroke="#0000ff"><path d="M717.0 427.6V442.6M714.1 427.6H719.9M714.1 442.6H719.9"/><circle cx="717.0" cy="435.1" r="2.7"/></g>
<g stroke="#0000ff"><path d="M717.3 443.2V463.0M714.4 443.2H720.2M714.4 463.0H720.2"/><circle cx="717.3" cy="453.1" r="2.7"/></g>
<g stroke="#0000ff"><path d="M724.6 437.6V452.6M721.7 437.6H727.5M721.7 452.6H727.5"/><circle cx="724.6" cy="445.1" r="2.7"/></g>
<g stroke="#0000ff"><path d="M729.1 442.8V454.9M726.2 442.8H732.0M726.2 454.9H732.0"/><circle cx="729.1" cy="448.8" r="2.7"/></g>
<g stroke="#0000ff"><path d="M733.5 459.9V474.9M730.6 459.9H736.4M730.6 474.9H736.4"/><circle cx="733.5" cy="467.4" r="2.7"/></g>
<g stroke="#0000ff"><path d="M739.4 439.5V456.6M736.5 439.5H742.3M736.5 456.6H742.3"/><circle cx="739.4" cy="448.0" r="2.7"/></g>
<g stroke="#0000ff"><path d="M743.6 443.3V455.4M740.7 443.3H746.5M740.7 455.4H746.5"/><circle cx="743.6" cy="449.4" r="2.7"/></g>
<g stroke="#0000ff"><path d="M750.7 444.0V456.8M747.8 444.0H753.6M747.8 456.8H753.6"/><circle cx="750.7" cy="450.4" r="2.7"/></g>
<g stroke="#0000ff"><path d="M754.9 465.0V482.6M752.0 465.0H757.8M752.0 482.6H757.8"/><circle cx="754.9" cy="473.8" r="2.7"/></g>
<g stroke="#0000ff"><path d="M766.2 444.4V464.7M763.3 444.4H769.1M763.3 464.7H769.1"/><circle cx="766.2" cy="454.5" r="2.7"/></g>
<g stroke="#0000ff"><path d="M770.6 427.7V464.1M767.7 427.7H773.5M767.7 464.1H773.5"/><circle cx="770.6" cy="445.9" r="2.7"/></g>
<g stroke="#ff69b4"><path d="M348.8 358.6V368.5M345.9 358.6H351.7M345.9 368.5H351.7"/><circle cx="348.8" cy="363.5" r="2.7"/></g>
<g stroke="#ff69b4"><path d="M357.7 359.4V370.4M354.8 359.4H360.6M354.8 370.4H360.6"/><circle cx="357.7" cy="364.9" r="2.7"/></g>
<g stroke="#ff69b4"><path d="M365.0 356.3V367.4M362.1 356.3H367.9M362.1 367.4H367.9"/><circle cx="365.0" cy="361.9" r="2.7"/></g>
<g stroke="#ff69b4"><path d="M370.7 350.3V362.4M367.8 350.3H373.6M367.8 362.4H373.6"/><circle cx="370.7" cy="356.4" r="2.7"/></g>
<g stroke="#ff69b4"><path d="M383.5 327.9V362.0M380.6 327.9H386.4M380.6 362.0H386.4"/><circle cx="383.5" cy="344.9" r="2.7"/></g>
<g stroke="#ff69b4"><path d="M394.0 335.4V345.3M391.1 335.4H396.9M391.1 345.3H396.9"/><circle cx="394.0" cy="340.3" r="2.7"/></g>
<g stroke="#ff69b4"><path d="M402.4 321.1V333.2M399.5 321.1H405.3M399.5 333.2H405.3"/><circle cx="402.4" cy="327.1" r="2.7"/></g>
<g stroke="#ff69b4"><path d="M415.0 304.4V314.3M412.1 304.4H417.9M412.1 314.3H417.9"/><circle cx="415.0" cy="309.4" r="2.7"/></g>
<g stroke="#ff69b4"><path d="M420.9 293.4V309.3M418.0 293.4H423.8M418.0 309.3H423.8"/><circle cx="420.9" cy="301.4" r="2.7"/></g>
<g stroke="#ff0000"><path d="M354.7 359.5V370.5M351.8 359.5H357.6M351.8 370.5H357.6"/><circle cx="354.7" cy="365.0" r="2.7"/></g>
<g stroke="#ff0000"><path d="M361.1 349.4V360.4M358.2 349.4H364.0M358.2 360.4H364.0"/><circle cx="361.1" cy="354.9" r="2.7"/></g>
<g stroke="#ff0000"><path d="M367.5 355.2V366.7M364.6 355.2H370.4M364.6 366.7H370.4"/><circle cx="367.5" cy="360.9" r="2.7"/></g>
<g stroke="#ff0000"><path d="M374.1 343.1V358.5M371.2 343.1H377.0M371.2 358.5H377.0"/><circle cx="374.1" cy="350.8" r="2.7"/></g>
<g stroke="#ff0000"><path d="M380.0 328.9V349.2M377.1 328.9H382.9M377.1 349.2H382.9"/><circle cx="380.0" cy="339.1" r="2.7"/></g>
<g stroke="#ff0000"><path d="M388.1 338.9V352.6M385.2 338.9H391.0M385.2 352.6H391.0"/><circle cx="388.1" cy="345.8" r="2.7"/></g>
<g stroke="#ff0000"><path d="M397.3 311.5V330.2M394.4 311.5H400.2M394.4 330.2H400.2"/><circle cx="397.3" cy="320.9" r="2.7"/></g>
<g stroke="#ff0000"><path d="M404.9 308.9V332.1M402.0 308.9H407.8M402.0 332.1H407.8"/><circle cx="404.9" cy="320.5" r="2.7"/></g>
<g stroke="#ff0000"><path d="M411.2 295.4V317.8M408.3 295.4H414.1M408.3 317.8H414.1"/><circle cx="411.2" cy="306.6" r="2.7"/></g>
<g stroke="#000000"><path d="M353.8 331.8V347.7M350.9 331.8H356.7M350.9 347.7H356.7"/><circle cx="353.8" cy="339.7" r="2.7"/></g>
<g stroke="#000000"><path d="M379.3 340.6V354.3M376.4 340.6H382.2M376.4 354.3H382.2"/><circle cx="379.3" cy="347.4" r="2.7"/></g>
<g stroke="#000000"><path d="M393.6 331.4V344.1M390.7 331.4H396.5M390.7 344.1H396.5"/><circle cx="393.6" cy="337.8" r="2.7"/></g>
<g stroke="#000000"><path d="M429.0 305.3V318.5M426.1 305.3H431.9M426.1 318.5H431.9"/><circle cx="429.0" cy="311.9" r="2.7"/></g>
</g>
<g clip-path="url(#c2)" fill="none" stroke-width="2.6">
<polyline stroke="#000" points="117.0,280.8 119.0,281.9 121.0,283.0 123.0,284.1 124.9,285.1 126.9,286.2 128.9,287.2 130.9,288.2 132.9,289.2 134.9,290.2 136.9,291.2 138.8,292.2 140.8,293.1 142.8,294.0 144.8,294.9 146.8,295.8 148.8,296.6 150.8,297.5 152.7,298.3 154.7,299.1 156.7,300.0 158.7,300.8 160.7,301.6 162.7,302.4 164.7,303.3 166.6,304.1 168.6,304.9 170.6,305.7 172.6,306.5 174.6,307.3 176.6,308.1 178.6,308.9 180.5,309.7 182.5,310.5 184.5,311.3 186.5,312.1 188.5,312.9 190.5,313.8 192.5,314.7 194.4,315.6 196.4,316.6 198.4,317.6 200.4,318.6 202.4,319.6 204.4,320.7 206.4,321.6 208.3,322.6 210.3,323.6 212.3,324.5 214.3,325.4 216.3,326.3 218.3,327.2 220.3,328.0 222.2,328.8 224.2,329.6 226.2,330.3 228.2,331.0 230.2,331.7 232.2,332.4 234.2,333.0 236.1,333.6 238.1,334.2 240.1,334.8 242.1,335.4 244.1,336.0 246.1,336.6 248.1,337.2 250.0,337.8 252.0,338.4 254.0,339.0 256.0,339.6 258.0,340.1 260.0,340.7 262.0,341.2 263.9,341.8 265.9,342.3 267.9,342.7 269.9,343.1 271.9,343.4 273.9,343.6 275.9,344.0 277.8,344.5 279.8,345.2 281.8,346.0 283.8,346.8 285.8,347.5 287.8,348.2 289.8,348.7 291.7,349.3 293.7,349.8 295.7,350.3 297.7,350.8 299.7,351.2 301.7,351.5 303.7,351.9 305.6,352.2 307.6,352.5 309.6,352.7 311.6,353.0 313.6,353.2 315.6,353.5 317.6,353.7 319.5,353.9 321.5,354.1 323.5,354.3 325.5,354.4 327.5,354.6 329.5,354.7 331.5,354.8 333.4,354.9 335.4,355.0 337.4,355.0 339.4,355.0 341.4,355.0 343.4,354.9 345.4,354.9 347.3,354.8 349.3,354.8 351.3,354.7 353.3,354.5 355.3,354.3 357.3,354.0 359.3,353.7 361.2,353.3 363.2,353.0 365.2,352.5 367.2,352.0 369.2,351.4 371.2,350.8 373.2,350.1 375.1,349.3 377.1,348.3 379.1,347.1 381.1,345.8 383.1,344.7 385.1,343.7 387.1,342.7 389.0,341.7 391.0,340.8 393.0,339.8 395.0,338.8 397.0,337.7 399.0,336.6 401.0,335.4 402.9,334.3 404.9,333.0 406.9,331.7 408.9,330.2 410.9,328.6 412.9,326.9 414.9,325.0 416.8,323.1 418.8,321.2 420.8,319.2 422.8,317.1 424.8,314.9 426.8,312.4 428.8,309.5 430.7,306.3 432.7,303.5 434.7,300.9 436.7,298.4 438.7,296.3 440.7,294.4 442.7,292.8 444.6,291.4 446.6,290.4 448.6,289.5 450.6,289.0 452.6,289.0 454.6,289.2 456.6,289.8 458.5,291.0 460.5,292.5 462.5,294.2 464.5,296.3 466.5,298.7 468.5,301.4 470.4,304.7 472.4,308.3 474.4,311.7 476.4,315.2 478.4,318.6 480.4,321.9 482.4,325.1 484.3,328.2 486.3,331.4 488.3,334.6 490.3,337.8 492.3,340.9 494.3,343.8 496.3,346.6 498.2,349.3 500.2,352.0 502.2,354.6 504.2,357.1 506.2,359.5 508.2,361.7 510.2,363.8 512.1,366.0 514.1,368.1 516.1,370.1 518.1,372.3 520.1,374.5 522.1,376.7 524.1,379.0 526.0,381.1 528.0,383.0 530.0,384.8 532.0,386.4 534.0,388.0 536.0,389.5 538.0,391.0 539.9,392.5 541.9,393.9 543.9,395.2 545.9,396.5 547.9,397.8 549.9,399.0 551.9,400.2 553.8,401.4 555.8,402.5 557.8,403.6 559.8,404.7 561.8,405.8 563.8,406.9 565.8,407.9 567.7,408.9 569.7,409.9 571.7,410.9 573.7,411.9 575.7,412.9 577.7,413.8 579.7,414.8 581.6,415.7 583.6,416.6 585.6,417.5 587.6,418.4 589.6,419.2 591.6,420.1 593.6,420.9 595.5,421.7 597.5,422.5 599.5,423.3 601.5,424.0 603.5,424.8 605.5,425.5 607.5,426.2 609.4,426.9 611.4,427.6 613.4,428.2 615.4,428.9 617.4,429.5 619.4,430.2 621.4,430.8 623.3,431.4 625.3,432.0 627.3,432.6 629.3,433.2 631.3,433.8 633.3,434.3 635.3,434.9 637.2,435.5 639.2,436.0 641.2,436.5 643.2,437.0 645.2,437.5 647.2,438.0 649.2,438.6 651.1,439.1 653.1,439.6 655.1,440.2 657.1,440.7 659.1,441.3 661.1,441.9 663.1,442.4 665.0,443.0 667.0,443.6 669.0,444.2 671.0,444.8 673.0,445.4 675.0,446.0 677.0,446.6 678.9,447.1 680.9,447.7 682.9,448.2 684.9,448.8 686.9,449.3 688.9,449.9 690.9,450.4 692.8,450.9 694.8,451.4 696.8,451.9 698.8,452.4 700.8,453.0 702.8,453.5 704.8,453.9 706.7,454.4 708.7,454.9 710.7,455.4 712.7,455.9 714.7,456.4 716.7,456.8 718.7,457.3 720.6,457.7 722.6,458.2 724.6,458.6 726.6,459.1 728.6,459.5 730.6,459.9 732.6,460.4 734.5,460.8 736.5,461.2 738.5,461.6 740.5,462.1 742.5,462.5 744.5,462.9 746.5,463.3 748.4,463.7 750.4,464.1 752.4,464.5 754.4,464.9 756.4,465.3 758.4,465.7 760.4,466.1 762.3,466.5 764.3,466.8 766.3,467.2 768.3,467.6 770.3,468.0 772.3,468.3 774.3,468.7 776.2,469.1 778.2,469.4 780.2,469.8 782.2,470.1 784.2,470.5 786.2,470.8 788.2,471.1 790.1,471.5 792.1,471.8 794.1,472.1 796.1,472.4 798.1,472.8 800.1,473.1 802.1,473.4 804.0,473.7 806.0,474.0 808.0,474.3 810.0,474.6"/>
<polyline stroke="#000" stroke-dasharray="10.9 9.5" points="117.0,272.3 119.0,273.3 121.0,274.3 123.0,275.2 124.9,276.2 126.9,277.2 128.9,278.2 130.9,279.1 132.9,280.1 134.9,281.1 136.9,282.0 138.8,282.9 140.8,283.9 142.8,284.8 144.8,285.6 146.8,286.5 148.8,287.4 150.8,288.2 152.7,289.1 154.7,289.9 156.7,290.8 158.7,291.6 160.7,292.4 162.7,293.2 164.7,294.1 166.6,294.9 168.6,295.7 170.6,296.4 172.6,297.2 174.6,298.0 176.6,298.8 178.6,299.6 180.5,300.4 182.5,301.1 184.5,301.9 186.5,302.7 188.5,303.5 190.5,304.2 192.5,305.0 194.4,305.7 196.4,306.5 198.4,307.2 200.4,308.0 202.4,308.7 204.4,309.4 206.4,310.2 208.3,310.9 210.3,311.6 212.3,312.3 214.3,313.0 216.3,313.8 218.3,314.5 220.3,315.3 222.2,316.0 224.2,316.8 226.2,317.5 228.2,318.3 230.2,319.1 232.2,319.8 234.2,320.5 236.1,321.2 238.1,321.9 240.1,322.6 242.1,323.2 244.1,323.9 246.1,324.5 248.1,325.1 250.0,325.7 252.0,326.3 254.0,326.9 256.0,327.6 258.0,328.1 260.0,328.7 262.0,329.3 263.9,329.9 265.9,330.5 267.9,331.0 269.9,331.6 271.9,332.2 273.9,332.8 275.9,333.4 277.8,334.0 279.8,334.6 281.8,335.2 283.8,335.8 285.8,336.4 287.8,337.0 289.8,337.6 291.7,338.2 293.7,338.8 295.7,339.4 297.7,340.0 299.7,340.5 301.7,341.0 303.7,341.6 305.6,342.1 307.6,342.5 309.6,343.0 311.6,343.5 313.6,344.0 315.6,344.5 317.6,345.1 319.5,345.6 321.5,346.1 323.5,346.6 325.5,347.0 327.5,347.4 329.5,347.9 331.5,348.3 333.4,348.7 335.4,349.0 337.4,349.4 339.4,349.7 341.4,350.0 343.4,350.3 345.4,350.6 347.3,350.9 349.3,351.2 351.3,351.4 353.3,351.7 355.3,351.9 357.3,351.9 359.3,351.9 361.2,352.0 363.2,352.0 365.2,352.0 367.2,352.0 369.2,351.9 371.2,351.8 373.2,351.6 375.1,351.3 377.1,351.1 379.1,350.8 381.1,350.5 383.1,350.2 385.1,349.9 387.1,349.5 389.0,349.1 391.0,348.5 393.0,347.9 395.0,346.9 397.0,345.6 399.0,344.3 401.0,342.9 402.9,341.6 404.9,340.2 406.9,339.0 408.9,338.1 410.9,337.3 412.9,336.5 414.9,335.8 416.8,335.2 418.8,334.6 420.8,334.1 422.8,333.6 424.8,333.2 426.8,332.8 428.8,332.6 430.7,332.4 432.7,332.1 434.7,332.0 436.7,331.9 438.7,331.9 440.7,332.0 442.7,332.1 444.6,332.3 446.6,332.4 448.6,332.6 450.6,332.8 452.6,333.1 454.6,333.5 456.6,333.8 458.5,334.2 460.5,334.7 462.5,335.3 464.5,335.9 466.5,336.6 468.5,337.2 470.4,337.9 472.4,338.6 474.4,339.3 476.4,340.1 478.4,341.0 480.4,341.9 482.4,342.9 484.3,344.0 486.3,345.0 488.3,346.1 490.3,347.2 492.3,348.4 494.3,349.7 496.3,351.2 498.2,352.9 500.2,354.8 502.2,356.9 504.2,359.2 506.2,361.2 508.2,363.2 510.2,365.2 512.1,367.1 514.1,368.9 516.1,370.7 518.1,372.6 520.1,374.5 522.1,376.4 524.1,378.3 526.0,380.1 528.0,381.7 530.0,383.2 532.0,384.7 534.0,386.1 536.0,387.4 538.0,388.7 539.9,390.0 541.9,391.2 543.9,392.4 545.9,393.6 547.9,394.8 549.9,395.9 551.9,397.0 553.8,398.0 555.8,399.0 557.8,399.9 559.8,400.9 561.8,401.8 563.8,402.7 565.8,403.5 567.7,404.4 569.7,405.3 571.7,406.2 573.7,407.0 575.7,407.8 577.7,408.6 579.7,409.3 581.6,410.0 583.6,410.6 585.6,411.2 587.6,411.9 589.6,412.5 591.6,413.1 593.6,413.7 595.5,414.2 597.5,414.8 599.5,415.3 601.5,415.9 603.5,416.4 605.5,417.0 607.5,417.5 609.4,418.1 611.4,418.6 613.4,419.2 615.4,419.8 617.4,420.4 619.4,421.0 621.4,421.6 623.3,422.2 625.3,422.8 627.3,423.4 629.3,423.9 631.3,424.5 633.3,425.0 635.3,425.5 637.2,425.9 639.2,426.4 641.2,426.9 643.2,427.4 645.2,427.8 647.2,428.3 649.2,428.8 651.1,429.3 653.1,429.8 655.1,430.4 657.1,430.9 659.1,431.5 661.1,432.1 663.1,432.8 665.0,433.4 667.0,434.0 669.0,434.6 671.0,435.3 673.0,435.9 675.0,436.5 677.0,437.1 678.9,437.7 680.9,438.3 682.9,438.8 684.9,439.4 686.9,439.9 688.9,440.4 690.9,440.9 692.8,441.4 694.8,441.9 696.8,442.4 698.8,442.9 700.8,443.4 702.8,443.8 704.8,444.3 706.7,444.8 708.7,445.2 710.7,445.7 712.7,446.1 714.7,446.6 716.7,447.0 718.7,447.5 720.6,447.9 722.6,448.3 724.6,448.8 726.6,449.2 728.6,449.7 730.6,450.1 732.6,450.5 734.5,450.9 736.5,451.3 738.5,451.8 740.5,452.2 742.5,452.6 744.5,452.9 746.5,453.3 748.4,453.7 750.4,454.0 752.4,454.4 754.4,454.7 756.4,455.1 758.4,455.4 760.4,455.8 762.3,456.1 764.3,456.4 766.3,456.7 768.3,457.0 770.3,457.4 772.3,457.7 774.3,458.0 776.2,458.3 778.2,458.5 780.2,458.8 782.2,459.1 784.2,459.4 786.2,459.7 788.2,460.0 790.1,460.2 792.1,460.5 794.1,460.8 796.1,461.0 798.1,461.3 800.1,461.5 802.1,461.8 804.0,462.0 806.0,462.3 808.0,462.5 810.0,462.7"/>
<polyline stroke="#00ffff" points="117.0,281.0 119.0,282.1 121.0,283.2 123.0,284.2 124.9,285.3 126.9,286.4 128.9,287.4 130.9,288.5 132.9,289.5 134.9,290.5 136.9,291.5 138.8,292.5 140.8,293.5 142.8,294.5 144.8,295.5 146.8,296.5 148.8,297.4 150.8,298.4 152.7,299.3 154.7,300.3 156.7,301.2 158.7,302.1 160.7,303.0 162.7,303.9 164.7,304.8 166.6,305.7 168.6,306.6 170.6,307.5 172.6,308.4 174.6,309.2 176.6,310.1 178.6,310.9 180.5,311.7 182.5,312.6 184.5,313.4 186.5,314.2 188.5,315.0 190.5,315.8 192.5,316.5 194.4,317.3 196.4,318.1 198.4,319.1 200.4,320.2 202.4,321.3 204.4,322.4 206.4,323.4 208.3,324.4 210.3,325.4 212.3,326.4 214.3,327.4 216.3,328.3 218.3,329.2 220.3,330.1 222.2,331.0 224.2,331.8 226.2,332.5 228.2,333.3 230.2,334.1 232.2,334.9 234.2,335.7 236.1,336.5 238.1,337.3 240.1,338.1 242.1,338.9 244.1,339.6 246.1,340.4 248.1,341.2 250.0,342.0 252.0,342.7 254.0,343.5 256.0,344.2 258.0,344.9 260.0,345.6 262.0,346.3 263.9,346.9 265.9,347.6 267.9,348.2 269.9,348.7 271.9,349.2 273.9,349.6 275.9,350.1 277.8,350.8 279.8,351.6 281.8,352.3 283.8,353.1 285.8,353.8 287.8,354.5 289.8,355.0 291.7,355.6 293.7,356.1 295.7,356.6 297.7,357.0 299.7,357.4 301.7,357.8 303.7,358.2 305.6,358.6 307.6,359.0 309.6,359.3 311.6,359.6 313.6,359.9 315.6,360.1 317.6,360.4 319.5,360.6 321.5,360.8 323.5,360.9 325.5,361.0 327.5,361.1 329.5,361.1 331.5,361.2 333.4,361.2 335.4,361.2 337.4,361.2 339.4,361.2 341.4,361.2 343.4,361.1 345.4,361.0 347.3,360.8 349.3,360.7 351.3,360.5 353.3,360.2 355.3,359.8 357.3,359.4 359.3,358.9 361.2,358.4 363.2,357.9 365.2,357.3 367.2,356.6 369.2,355.8 371.2,354.8 373.2,353.6 375.1,352.4 377.1,351.3 379.1,350.3 381.1,349.1 383.1,347.7 385.1,345.9 387.1,343.9 389.0,341.8 391.0,339.5 393.0,337.2 395.0,335.0 397.0,332.9 399.0,330.7 401.0,328.5 402.9,326.3 404.9,324.1 406.9,321.9 408.9,319.7 410.9,317.5 412.9,315.3 414.9,313.2 416.8,311.1 418.8,309.1 420.8,307.5 422.8,306.2 424.8,305.0 426.8,304.2 428.8,303.5 430.7,303.0 432.7,302.7 434.7,302.6 436.7,302.5 438.7,302.5 440.7,302.8 442.7,303.5 444.6,304.3 446.6,305.0 448.6,305.8 450.6,306.6 452.6,307.5 454.6,308.5 456.6,309.7 458.5,311.1 460.5,312.6 462.5,314.0 464.5,315.5 466.5,317.2 468.5,319.1 470.4,321.4 472.4,324.0 474.4,326.4 476.4,328.8 478.4,331.1 480.4,333.6 482.4,336.2 484.3,338.9 486.3,341.3 488.3,343.4 490.3,345.3 492.3,347.3 494.3,349.4 496.3,351.6 498.2,353.8 500.2,356.0 502.2,358.2 504.2,360.4 506.2,362.5 508.2,364.5 510.2,366.5 512.1,368.3 514.1,370.2 516.1,371.9 518.1,373.8 520.1,375.7 522.1,377.6 524.1,379.5 526.0,381.3 528.0,382.9 530.0,384.5 532.0,385.9 534.0,387.3 536.0,388.6 538.0,389.9 539.9,391.2 541.9,392.5 543.9,393.7 545.9,394.9 547.9,396.1 549.9,397.3 551.9,398.4 553.8,399.5 555.8,400.5 557.8,401.5 559.8,402.5 561.8,403.5 563.8,404.4 565.8,405.4 567.7,406.3 569.7,407.2 571.7,408.1 573.7,409.0 575.7,409.8 577.7,410.7 579.7,411.5 581.6,412.3 583.6,413.1 585.6,413.9 587.6,414.7 589.6,415.4 591.6,416.2 593.6,416.9 595.5,417.6 597.5,418.3 599.5,419.0 601.5,419.7 603.5,420.3 605.5,421.1 607.5,421.8 609.4,422.5 611.4,423.2 613.4,423.8 615.4,424.5 617.4,425.2 619.4,426.0 621.4,426.7 623.3,427.4 625.3,428.1 627.3,428.8 629.3,429.5 631.3,430.1 633.3,430.7 635.3,431.3 637.2,431.8 639.2,432.3 641.2,432.8 643.2,433.3 645.2,433.7 647.2,434.2 649.2,434.6 651.1,435.1 653.1,435.5 655.1,436.0 657.1,436.5 659.1,437.1 661.1,437.6 663.1,438.1 665.0,438.7 667.0,439.2 669.0,439.8 671.0,440.3 673.0,440.9 675.0,441.4 677.0,442.0 678.9,442.5 680.9,443.1 682.9,443.6 684.9,444.1 686.9,444.6 688.9,445.1 690.9,445.6 692.8,446.1 694.8,446.6 696.8,447.1 698.8,447.6 700.8,448.1 702.8,448.6 704.8,449.0 706.7,449.5 708.7,450.0 710.7,450.5 712.7,450.9 714.7,451.4 716.7,451.8 718.7,452.3 720.6,452.7 722.6,453.1 724.6,453.6 726.6,454.0 728.6,454.4 730.6,454.9 732.6,455.3 734.5,455.7 736.5,456.1 738.5,456.5 740.5,456.9 742.5,457.3 744.5,457.7 746.5,458.1 748.4,458.5 750.4,458.9 752.4,459.2 754.4,459.6 756.4,460.0 758.4,460.3 760.4,460.7 762.3,461.1 764.3,461.4 766.3,461.8 768.3,462.1 770.3,462.5 772.3,462.8 774.3,463.1 776.2,463.5 778.2,463.8 780.2,464.2 782.2,464.5 784.2,464.8 786.2,465.1 788.2,465.5 790.1,465.8 792.1,466.1 794.1,466.4 796.1,466.8 798.1,467.1 800.1,467.4 802.1,467.7 804.0,468.0 806.0,468.3 808.0,468.6 810.0,468.9"/>
<path stroke="#00ffff" d="M136 413H232.6"/><path stroke="#000" d="M136 436.3H232.6"/><path stroke="#000" stroke-dasharray="10.5 9.7" d="M136 459.1H232.6"/>
</g>
<g clip-path="url(#c3)" fill="none" stroke-width="1.35">
<g stroke="#00e676"><path d="M119.7 565.3V583.9M116.8 565.3H122.6M116.8 583.9H122.6"/><circle cx="119.7" cy="574.6" r="2.7"/></g>
<g stroke="#00e676"><path d="M128.2 558.6V568.7M125.3 558.6H131.1M125.3 568.7H131.1"/><circle cx="128.2" cy="563.6" r="2.7"/></g>
<g stroke="#00e676"><path d="M135.6 565.3V577.1M132.7 565.3H138.5M132.7 577.1H138.5"/><circle cx="135.6" cy="571.2" r="2.7"/></g>
<g stroke="#00e676"><path d="M139.5 560.3V570.4M136.6 560.3H142.4M136.6 570.4H142.4"/><circle cx="139.5" cy="565.3" r="2.7"/></g>
<g stroke="#00e676"><path d="M144.0 571.2V596.5M141.1 571.2H146.9M141.1 596.5H146.9"/><circle cx="144.0" cy="583.9" r="2.7"/></g>
<g stroke="#00e676"><path d="M148.7 555.6V568.4M145.8 555.6H151.6M145.8 568.4H151.6"/><circle cx="148.7" cy="562.0" r="2.7"/></g>
<g stroke="#00e676"><path d="M152.9 564.2V576.0M150.0 564.2H155.8M150.0 576.0H155.8"/><circle cx="152.9" cy="570.1" r="2.7"/></g>
<g stroke="#00e676"><path d="M159.2 551.8V565.3M156.3 551.8H162.1M156.3 565.3H162.1"/><circle cx="159.2" cy="558.6" r="2.7"/></g>
<g stroke="#00e676"><path d="M164.4 559.3V575.5M161.5 559.3H167.3M161.5 575.5H167.3"/><circle cx="164.4" cy="567.4" r="2.7"/></g>
<g stroke="#00e676"><path d="M173.5 551.0V576.3M170.6 551.0H176.4M170.6 576.3H176.4"/><circle cx="173.5" cy="563.6" r="2.7"/></g>
<g stroke="#00e676"><path d="M177.7 566.2V584.7M174.8 566.2H180.6M174.8 584.7H180.6"/><circle cx="177.7" cy="575.5" r="2.7"/></g>
<g stroke="#00e676"><path d="M184.6 544.3V562.8M181.7 544.3H187.5M181.7 562.8H187.5"/><circle cx="184.6" cy="553.5" r="2.7"/></g>
<g stroke="#00e676"><path d="M196.8 551.0V564.5M193.9 551.0H199.7M193.9 564.5H199.7"/><circle cx="196.8" cy="557.7" r="2.7"/></g>
<g stroke="#00e676"><path d="M201.0 570.4V584.6M198.1 570.4H203.9M198.1 584.6H203.9"/><circle cx="201.0" cy="577.5" r="2.7"/></g>
<g stroke="#00e676"><path d="M206.1 562.8V576.3M203.2 562.8H209.0M203.2 576.3H209.0"/><circle cx="206.1" cy="569.6" r="2.7"/></g>
<g stroke="#00e676"><path d="M210.3 568.7V581.5M207.4 568.7H213.2M207.4 581.5H213.2"/><circle cx="210.3" cy="575.1" r="2.7"/></g>
<g stroke="#00e676"><path d="M219.2 558.6V578.2M216.3 558.6H222.1M216.3 578.2H222.1"/><circle cx="219.2" cy="568.4" r="2.7"/></g>
<g stroke="#00e676"><path d="M225.5 557.2V570.1M222.6 557.2H228.4M222.6 570.1H228.4"/><circle cx="225.5" cy="563.6" r="2.7"/></g>
<g stroke="#00e676"><path d="M228.8 560.3V575.5M225.9 560.3H231.7M225.9 575.5H231.7"/><circle cx="228.8" cy="567.9" r="2.7"/></g>
<g stroke="#00e676"><path d="M232.5 576.0V591.1M229.6 576.0H235.4M229.6 591.1H235.4"/><circle cx="232.5" cy="583.5" r="2.7"/></g>
<g stroke="#00e676"><path d="M236.8 565.3V578.2M233.9 565.3H239.7M233.9 578.2H239.7"/><circle cx="236.8" cy="571.7" r="2.7"/></g>
<g stroke="#00e676"><path d="M246.3 562.3V585.2M243.4 562.3H249.2M243.4 585.2H249.2"/><circle cx="246.3" cy="573.8" r="2.7"/></g>
<g stroke="#00e676"><path d="M496.6 568.7V583.9M493.7 568.7H499.5M493.7 583.9H499.5"/><circle cx="496.6" cy="576.3" r="2.7"/></g>
<g stroke="#00e676"><path d="M501.7 578.8V595.0M498.8 578.8H504.6M498.8 595.0H504.6"/><circle cx="501.7" cy="586.9" r="2.7"/></g>
<g stroke="#00e676"><path d="M506.3 565.3V580.5M503.4 565.3H509.2M503.4 580.5H509.2"/><circle cx="506.3" cy="572.9" r="2.7"/></g>
<g stroke="#00e676"><path d="M510.0 557.4V571.6M507.1 557.4H512.9M507.1 571.6H512.9"/><circle cx="510.0" cy="564.5" r="2.7"/></g>
<g stroke="#00e676"><path d="M514.7 545.9V561.1M511.8 545.9H517.6M511.8 561.1H517.6"/><circle cx="514.7" cy="553.5" r="2.7"/></g>
<g stroke="#00e676"><path d="M521.8 549.3V567.9M518.9 549.3H524.7M518.9 567.9H524.7"/><circle cx="521.8" cy="558.6" r="2.7"/></g>
<g stroke="#00e676"><path d="M526.5 555.2V573.8M523.6 555.2H529.4M523.6 573.8H529.4"/><circle cx="526.5" cy="564.5" r="2.7"/></g>
<g stroke="#00e676"><path d="M530.7 552.7V569.6M527.8 552.7H533.6M527.8 569.6H533.6"/><circle cx="530.7" cy="561.1" r="2.7"/></g>
<g stroke="#00e676"><path d="M535.4 528.2V568.7M532.5 528.2H538.3M532.5 568.7H538.3"/><circle cx="535.4" cy="548.5" r="2.7"/></g>
<g stroke="#00e676"><path d="M540.0 540.9V576.3M537.1 540.9H542.9M537.1 576.3H542.9"/><circle cx="540.0" cy="558.6" r="2.7"/></g>
<g stroke="#00e676"><path d="M545.0 546.8V587.3M542.1 546.8H547.9M542.1 587.3H547.9"/><circle cx="545.0" cy="567.0" r="2.7"/></g>
<g stroke="#00e676"><path d="M550.9 558.6V582.2M548.0 558.6H553.8M548.0 582.2H553.8"/><circle cx="550.9" cy="570.4" r="2.7"/></g>
<g stroke="#00e676"><path d="M556.0 563.6V582.2M553.1 563.6H558.9M553.1 582.2H558.9"/><circle cx="556.0" cy="572.9" r="2.7"/></g>
<g stroke="#00e676"><path d="M560.6 530.4V562.5M557.7 530.4H563.5M557.7 562.5H563.5"/><circle cx="560.6" cy="546.4" r="2.7"/></g>
<g stroke="#00e676"><path d="M564.8 551.0V564.5M561.9 551.0H567.7M561.9 564.5H567.7"/><circle cx="564.8" cy="557.7" r="2.7"/></g>
<g stroke="#00e676"><path d="M569.8 532.8V559.1M566.9 532.8H572.7M566.9 559.1H572.7"/><circle cx="569.8" cy="545.9" r="2.7"/></g>
<g stroke="#00e676"><path d="M577.1 535.0V553.5M574.2 535.0H580.0M574.2 553.5H580.0"/><circle cx="577.1" cy="544.3" r="2.7"/></g>
<g stroke="#00e676"><path d="M581.6 534.1V557.7M578.7 534.1H584.5M578.7 557.7H584.5"/><circle cx="581.6" cy="545.9" r="2.7"/></g>
<g stroke="#00e676"><path d="M586.4 541.7V562.0M583.5 541.7H589.3M583.5 562.0H589.3"/><circle cx="586.4" cy="551.8" r="2.7"/></g>
<g stroke="#00e676"><path d="M590.8 555.2V583.9M587.9 555.2H593.7M587.9 583.9H593.7"/><circle cx="590.8" cy="569.6" r="2.7"/></g>
<g stroke="#00e676"><path d="M592.9 555.2V575.5M590.0 555.2H595.8M590.0 575.5H595.8"/><circle cx="592.9" cy="565.3" r="2.7"/></g>
<g stroke="#00e676"><path d="M597.3 564.2V584.4M594.4 564.2H600.2M594.4 584.4H600.2"/><circle cx="597.3" cy="574.3" r="2.7"/></g>
<g stroke="#00e676"><path d="M604.7 521.5V545.1M601.8 521.5H607.6M601.8 545.1H607.6"/><circle cx="604.7" cy="533.3" r="2.7"/></g>
<g stroke="#00e676"><path d="M609.4 548.5V565.3M606.5 548.5H612.3M606.5 565.3H612.3"/><circle cx="609.4" cy="556.9" r="2.7"/></g>
<g stroke="#00e676"><path d="M613.9 540.0V558.6M611.0 540.0H616.8M611.0 558.6H616.8"/><circle cx="613.9" cy="549.3" r="2.7"/></g>
<g stroke="#00e676"><path d="M618.7 552.7V571.2M615.8 552.7H621.6M615.8 571.2H621.6"/><circle cx="618.7" cy="562.0" r="2.7"/></g>
<g stroke="#00e676"><path d="M622.9 529.1V561.1M620.0 529.1H625.8M620.0 561.1H625.8"/><circle cx="622.9" cy="545.1" r="2.7"/></g>
<g stroke="#00e676"><path d="M630.1 514.7V544.4M627.2 514.7H633.0M627.2 544.4H633.0"/><circle cx="630.1" cy="529.6" r="2.7"/></g>
<g stroke="#228b22"><path d="M118.0 567.0V578.8M115.1 567.0H120.9M115.1 578.8H120.9"/><circle cx="118.0" cy="572.9" r="2.7"/></g>
<g stroke="#228b22"><path d="M122.1 565.8V577.6M119.2 565.8H125.0M119.2 577.6H125.0"/><circle cx="122.1" cy="571.7" r="2.7"/></g>
<g stroke="#228b22"><path d="M126.0 567.4V580.2M123.1 567.4H128.9M123.1 580.2H128.9"/><circle cx="126.0" cy="573.8" r="2.7"/></g>
<g stroke="#228b22"><path d="M132.7 557.2V570.1M129.8 557.2H135.6M129.8 570.1H135.6"/><circle cx="132.7" cy="563.6" r="2.7"/></g>
<g stroke="#228b22"><path d="M137.4 545.1V562.0M134.5 545.1H140.3M134.5 562.0H140.3"/><circle cx="137.4" cy="553.5" r="2.7"/></g>
<g stroke="#228b22"><path d="M141.6 553.2V570.1M138.7 553.2H144.5M138.7 570.1H144.5"/><circle cx="141.6" cy="561.6" r="2.7"/></g>
<g stroke="#228b22"><path d="M146.2 569.2V600.2M143.3 569.2H149.1M143.3 600.2H149.1"/><circle cx="146.2" cy="584.7" r="2.7"/></g>
<g stroke="#228b22"><path d="M150.9 572.9V586.4M148.0 572.9H153.8M148.0 586.4H153.8"/><circle cx="150.9" cy="579.7" r="2.7"/></g>
<g stroke="#228b22"><path d="M157.2 552.2V565.0M154.3 552.2H160.1M154.3 565.0H160.1"/><circle cx="157.2" cy="558.6" r="2.7"/></g>
<g stroke="#228b22"><path d="M160.2 552.5V565.3M157.3 552.5H163.1M157.3 565.3H163.1"/><circle cx="160.2" cy="558.9" r="2.7"/></g>
<g stroke="#228b22"><path d="M162.2 555.2V572.1M159.3 555.2H165.1M159.3 572.1H165.1"/><circle cx="162.2" cy="563.6" r="2.7"/></g>
<g stroke="#228b22"><path d="M166.9 565.7V578.5M164.0 565.7H169.8M164.0 578.5H169.8"/><circle cx="166.9" cy="572.1" r="2.7"/></g>
<g stroke="#228b22"><path d="M176.0 564.0V577.5M173.1 564.0H178.9M173.1 577.5H178.9"/><circle cx="176.0" cy="570.7" r="2.7"/></g>
<g stroke="#228b22"><path d="M179.9 557.7V576.3M177.0 557.7H182.8M177.0 576.3H182.8"/><circle cx="179.9" cy="567.0" r="2.7"/></g>
<g stroke="#228b22"><path d="M187.0 570.4V587.3M184.1 570.4H189.9M184.1 587.3H189.9"/><circle cx="187.0" cy="578.8" r="2.7"/></g>
<g stroke="#228b22"><path d="M194.6 549.7V564.8M191.7 549.7H197.5M191.7 564.8H197.5"/><circle cx="194.6" cy="557.2" r="2.7"/></g>
<g stroke="#228b22"><path d="M198.8 555.2V569.4M195.9 555.2H201.7M195.9 569.4H201.7"/><circle cx="198.8" cy="562.3" r="2.7"/></g>
<g stroke="#228b22"><path d="M203.2 578.7V591.5M200.3 578.7H206.1M200.3 591.5H206.1"/><circle cx="203.2" cy="585.1" r="2.7"/></g>
<g stroke="#228b22"><path d="M208.1 558.6V572.1M205.2 558.6H211.0M205.2 572.1H211.0"/><circle cx="208.1" cy="565.3" r="2.7"/></g>
<g stroke="#228b22"><path d="M212.5 556.6V570.1M209.6 556.6H215.4M209.6 570.1H215.4"/><circle cx="212.5" cy="563.3" r="2.7"/></g>
<g stroke="#228b22"><path d="M221.6 552.4V573.3M218.7 552.4H224.5M218.7 573.3H224.5"/><circle cx="221.6" cy="562.8" r="2.7"/></g>
<g stroke="#228b22"><path d="M223.8 560.3V573.8M220.9 560.3H226.7M220.9 573.8H226.7"/><circle cx="223.8" cy="567.0" r="2.7"/></g>
<g stroke="#228b22"><path d="M227.1 556.9V570.4M224.2 556.9H230.0M224.2 570.4H230.0"/><circle cx="227.1" cy="563.6" r="2.7"/></g>
<g stroke="#228b22"><path d="M230.5 552.2V565.7M227.6 552.2H233.4M227.6 565.7H233.4"/><circle cx="230.5" cy="558.9" r="2.7"/></g>
<g stroke="#228b22"><path d="M234.7 569.0V585.2M231.8 569.0H237.6M231.8 585.2H237.6"/><circle cx="234.7" cy="577.1" r="2.7"/></g>
<g stroke="#228b22"><path d="M238.9 573.8V590.0M236.0 573.8H241.8M236.0 590.0H241.8"/><circle cx="238.9" cy="581.9" r="2.7"/></g>
<g stroke="#228b22"><path d="M499.2 576.8V593.7M496.3 576.8H502.1M496.3 593.7H502.1"/><circle cx="499.2" cy="585.2" r="2.7"/></g>
<g stroke="#228b22"><path d="M504.2 565.3V578.8M501.3 565.3H507.1M501.3 578.8H507.1"/><circle cx="504.2" cy="572.1" r="2.7"/></g>
<g stroke="#228b22"><path d="M507.9 566.3V580.5M505.0 566.3H510.8M505.0 580.5H510.8"/><circle cx="507.9" cy="573.4" r="2.7"/></g>
<g stroke="#228b22"><path d="M512.2 567.0V582.2M509.3 567.0H515.1M509.3 582.2H515.1"/><circle cx="512.2" cy="574.6" r="2.7"/></g>
<g stroke="#228b22"><path d="M516.9 547.6V564.5M514.0 547.6H519.8M514.0 564.5H519.8"/><circle cx="516.9" cy="556.1" r="2.7"/></g>
<g stroke="#228b22"><path d="M524.0 556.9V572.1M521.1 556.9H526.9M521.1 572.1H526.9"/><circle cx="524.0" cy="564.5" r="2.7"/></g>
<g stroke="#228b22"><path d="M528.7 554.4V588.1M525.8 554.4H531.6M525.8 588.1H531.6"/><circle cx="528.7" cy="571.2" r="2.7"/></g>
<g stroke="#228b22"><path d="M533.2 558.6V592.3M530.3 558.6H536.1M530.3 592.3H536.1"/><circle cx="533.2" cy="575.5" r="2.7"/></g>
<g stroke="#228b22"><path d="M538.0 549.0V587.8M535.1 549.0H540.9M535.1 587.8H540.9"/><circle cx="538.0" cy="568.4" r="2.7"/></g>
<g stroke="#228b22"><path d="M542.5 549.8V597.0M539.6 549.8H545.4M539.6 597.0H545.4"/><circle cx="542.5" cy="573.4" r="2.7"/></g>
<g stroke="#228b22"><path d="M548.9 546.8V577.1M546.0 546.8H551.8M546.0 577.1H551.8"/><circle cx="548.9" cy="562.0" r="2.7"/></g>
<g stroke="#228b22"><path d="M553.8 551.5V572.4M550.9 551.5H556.7M550.9 572.4H556.7"/><circle cx="553.8" cy="562.0" r="2.7"/></g>
<g stroke="#228b22"><path d="M558.5 556.9V575.5M555.6 556.9H561.4M555.6 575.5H561.4"/><circle cx="558.5" cy="566.2" r="2.7"/></g>
<g stroke="#228b22"><path d="M562.7 529.2V550.2M559.8 529.2H565.6M559.8 550.2H565.6"/><circle cx="562.7" cy="539.7" r="2.7"/></g>
<g stroke="#228b22"><path d="M567.5 567.9V593.2M564.6 567.9H570.4M564.6 593.2H570.4"/><circle cx="567.5" cy="580.5" r="2.7"/></g>
<g stroke="#228b22"><path d="M575.1 555.7V576.6M572.2 555.7H578.0M572.2 576.6H578.0"/><circle cx="575.1" cy="566.2" r="2.7"/></g>
<g stroke="#228b22"><path d="M579.6 531.9V548.8M576.7 531.9H582.5M576.7 548.8H582.5"/><circle cx="579.6" cy="540.4" r="2.7"/></g>
<g stroke="#228b22"><path d="M584.2 540.7V570.4M581.3 540.7H587.1M581.3 570.4H587.1"/><circle cx="584.2" cy="555.6" r="2.7"/></g>
<g stroke="#228b22"><path d="M588.5 545.6V570.9M585.6 545.6H591.4M585.6 570.9H591.4"/><circle cx="588.5" cy="558.3" r="2.7"/></g>
<g stroke="#228b22"><path d="M594.7 534.6V563.3M591.8 534.6H597.6M591.8 563.3H597.6"/><circle cx="594.7" cy="549.0" r="2.7"/></g>
<g stroke="#228b22"><path d="M602.1 534.6V551.5M599.2 534.6H605.0M599.2 551.5H605.0"/><circle cx="602.1" cy="543.1" r="2.7"/></g>
<g stroke="#228b22"><path d="M606.9 528.7V549.7M604.0 528.7H609.8M604.0 549.7H609.8"/><circle cx="606.9" cy="539.2" r="2.7"/></g>
<g stroke="#228b22"><path d="M611.9 531.6V551.8M609.0 531.6H614.8M609.0 551.8H614.8"/><circle cx="611.9" cy="541.7" r="2.7"/></g>
<g stroke="#228b22"><path d="M616.1 534.1V554.4M613.2 534.1H619.0M613.2 554.4H619.0"/><circle cx="616.1" cy="544.3" r="2.7"/></g>
<g stroke="#228b22"><path d="M620.9 553.2V574.1M618.0 553.2H623.8M618.0 574.1H623.8"/><circle cx="620.9" cy="563.6" r="2.7"/></g>
<g stroke="#228b22"><path d="M627.6 553.5V576.5M624.7 553.5H630.5M624.7 576.5H630.5"/><circle cx="627.6" cy="565.0" r="2.7"/></g>
<g stroke="#228b22"><path d="M632.7 523.2V565.3M629.8 523.2H635.6M629.8 565.3H635.6"/><circle cx="632.7" cy="544.3" r="2.7"/></g>
<g stroke="#1e90ff"><path d="M265.7 543.9V561.5M262.8 543.9H268.6M262.8 561.5H268.6"/><circle cx="265.7" cy="552.7" r="2.7"/></g>
<g stroke="#1e90ff"><path d="M270.3 563.6V588.9M267.4 563.6H273.2M267.4 588.9H273.2"/><circle cx="270.3" cy="576.3" r="2.7"/></g>
<g stroke="#1e90ff"><path d="M275.0 562.3V581.9M272.1 562.3H277.9M272.1 581.9H277.9"/><circle cx="275.0" cy="572.1" r="2.7"/></g>
<g stroke="#1e90ff"><path d="M279.6 562.0V595.7M276.7 562.0H282.5M276.7 595.7H282.5"/><circle cx="279.6" cy="578.8" r="2.7"/></g>
<g stroke="#1e90ff"><path d="M300.6 561.1V574.6M297.7 561.1H303.5M297.7 574.6H303.5"/><circle cx="300.6" cy="567.9" r="2.7"/></g>
<g stroke="#1e90ff"><path d="M306.9 548.5V563.6M304.0 548.5H309.8M304.0 563.6H309.8"/><circle cx="306.9" cy="556.1" r="2.7"/></g>
<g stroke="#1e90ff"><path d="M312.5 566.2V581.4M309.6 566.2H315.4M309.6 581.4H315.4"/><circle cx="312.5" cy="573.8" r="2.7"/></g>
<g stroke="#1e90ff"><path d="M319.2 566.7V580.8M316.3 566.7H322.1M316.3 580.8H322.1"/><circle cx="319.2" cy="573.8" r="2.7"/></g>
<g stroke="#1e90ff"><path d="M324.3 558.6V577.1M321.4 558.6H327.2M321.4 577.1H327.2"/><circle cx="324.3" cy="567.9" r="2.7"/></g>
<g stroke="#1e90ff"><path d="M329.3 578.3V593.5M326.4 578.3H332.2M326.4 593.5H332.2"/><circle cx="329.3" cy="585.9" r="2.7"/></g>
<g stroke="#1e90ff"><path d="M336.9 563.3V580.2M334.0 563.3H339.8M334.0 580.2H339.8"/><circle cx="336.9" cy="571.7" r="2.7"/></g>
<g stroke="#1e90ff"><path d="M345.9 555.2V570.4M343.0 555.2H348.8M343.0 570.4H348.8"/><circle cx="345.9" cy="562.8" r="2.7"/></g>
<g stroke="#1e90ff"><path d="M341.3 582.2V599.1M338.4 582.2H344.2M338.4 599.1H344.2"/><circle cx="341.3" cy="590.6" r="2.7"/></g>
<g stroke="#1e90ff"><path d="M355.7 585.1V601.9M352.8 585.1H358.6M352.8 601.9H358.6"/><circle cx="355.7" cy="593.5" r="2.7"/></g>
<g stroke="#1e90ff"><path d="M363.6 567.0V583.9M360.7 567.0H366.5M360.7 583.9H366.5"/><circle cx="363.6" cy="575.5" r="2.7"/></g>
<g stroke="#1e90ff"><path d="M369.0 553.5V570.4M366.1 553.5H371.9M366.1 570.4H371.9"/><circle cx="369.0" cy="562.0" r="2.7"/></g>
<g stroke="#1e90ff"><path d="M374.1 571.2V589.8M371.2 571.2H377.0M371.2 589.8H377.0"/><circle cx="374.1" cy="580.5" r="2.7"/></g>
<g stroke="#1e90ff"><path d="M635.2 552.4V576.6M632.3 552.4H638.1M632.3 576.6H638.1"/><circle cx="635.2" cy="564.5" r="2.7"/></g>
<g stroke="#1e90ff"><path d="M640.1 567.9V586.4M637.2 567.9H643.0M637.2 586.4H643.0"/><circle cx="640.1" cy="577.1" r="2.7"/></g>
<g stroke="#1e90ff"><path d="M644.8 565.3V583.9M641.9 565.3H647.7M641.9 583.9H647.7"/><circle cx="644.8" cy="574.6" r="2.7"/></g>
<g stroke="#1e90ff"><path d="M649.0 546.1V570.4M646.1 546.1H651.9M646.1 570.4H651.9"/><circle cx="649.0" cy="558.3" r="2.7"/></g>
<g stroke="#1e90ff"><path d="M657.1 535.0V553.5M654.2 535.0H660.0M654.2 553.5H660.0"/><circle cx="657.1" cy="544.3" r="2.7"/></g>
<g stroke="#1e90ff"><path d="M661.3 555.2V573.8M658.4 555.2H664.2M658.4 573.8H664.2"/><circle cx="661.3" cy="564.5" r="2.7"/></g>
<g stroke="#1e90ff"><path d="M665.9 535.3V558.3M663.0 535.3H668.8M663.0 558.3H668.8"/><circle cx="665.9" cy="546.8" r="2.7"/></g>
<g stroke="#1e90ff"><path d="M670.9 531.3V552.2M668.0 531.3H673.8M668.0 552.2H673.8"/><circle cx="670.9" cy="541.7" r="2.7"/></g>
<g stroke="#1e90ff"><path d="M687.0 549.0V566.5M684.1 549.0H689.9M684.1 566.5H689.9"/><circle cx="687.0" cy="557.7" r="2.7"/></g>
<g stroke="#1e90ff"><path d="M707.7 527.3V546.9M704.8 527.3H710.6M704.8 546.9H710.6"/><circle cx="707.7" cy="537.1" r="2.7"/></g>
<g stroke="#1e90ff"><path d="M712.4 538.8V564.1M709.5 538.8H715.3M709.5 564.1H715.3"/><circle cx="712.4" cy="551.4" r="2.7"/></g>
<g stroke="#1e90ff"><path d="M719.5 557.3V588.4M716.6 557.3H722.4M716.6 588.4H722.4"/><circle cx="719.5" cy="572.8" r="2.7"/></g>
<g stroke="#1e90ff"><path d="M726.8 557.3V578.2M723.9 557.3H729.7M723.9 578.2H729.7"/><circle cx="726.8" cy="567.8" r="2.7"/></g>
<g stroke="#1e90ff"><path d="M731.3 533.7V555.6M728.4 533.7H734.2M728.4 555.6H734.2"/><circle cx="731.3" cy="544.7" r="2.7"/></g>
<g stroke="#1e90ff"><path d="M737.7 559.9V583.5M734.8 559.9H740.6M734.8 583.5H740.6"/><circle cx="737.7" cy="571.7" r="2.7"/></g>
<g stroke="#1e90ff"><path d="M741.4 538.8V559.0M738.5 538.8H744.3M738.5 559.0H744.3"/><circle cx="741.4" cy="548.9" r="2.7"/></g>
<g stroke="#1e90ff"><path d="M748.2 538.4V562.1M745.3 538.4H751.1M745.3 562.1H751.1"/><circle cx="748.2" cy="550.3" r="2.7"/></g>
<g stroke="#1e90ff"><path d="M752.7 549.4V574.7M749.8 549.4H755.6M749.8 574.7H755.6"/><circle cx="752.7" cy="562.1" r="2.7"/></g>
<g stroke="#1e90ff"><path d="M757.5 529.2V552.8M754.6 529.2H760.4M754.6 552.8H760.4"/><circle cx="757.5" cy="541.0" r="2.7"/></g>
<g stroke="#1e90ff"><path d="M763.7 537.6V569.6M760.8 537.6H766.6M760.8 569.6H766.6"/><circle cx="763.7" cy="553.6" r="2.7"/></g>
<g stroke="#1e90ff"><path d="M767.9 546.4V581.8M765.0 546.4H770.8M765.0 581.8H770.8"/><circle cx="767.9" cy="564.1" r="2.7"/></g>
<g stroke="#0000ff"><path d="M255.1 567.5V582.7M252.2 567.5H258.0M252.2 582.7H258.0"/><circle cx="255.1" cy="575.1" r="2.7"/></g>
<g stroke="#0000ff"><path d="M261.0 576.8V592.0M258.1 576.8H263.9M258.1 592.0H263.9"/><circle cx="261.0" cy="584.4" r="2.7"/></g>
<g stroke="#0000ff"><path d="M267.8 553.5V570.4M264.9 553.5H270.7M264.9 570.4H270.7"/><circle cx="267.8" cy="562.0" r="2.7"/></g>
<g stroke="#0000ff"><path d="M272.8 561.6V578.5M269.9 561.6H275.7M269.9 578.5H275.7"/><circle cx="272.8" cy="570.1" r="2.7"/></g>
<g stroke="#0000ff"><path d="M277.4 562.0V602.4M274.5 562.0H280.3M274.5 602.4H280.3"/><circle cx="277.4" cy="582.2" r="2.7"/></g>
<g stroke="#0000ff"><path d="M281.8 557.9V595.7M278.9 557.9H284.7M278.9 595.7H284.7"/><circle cx="281.8" cy="576.8" r="2.7"/></g>
<g stroke="#0000ff"><path d="M293.9 559.9V585.2M291.0 559.9H296.8M291.0 585.2H296.8"/><circle cx="293.9" cy="572.6" r="2.7"/></g>
<g stroke="#0000ff"><path d="M302.8 553.5V579.8M299.9 553.5H305.7M299.9 579.8H305.7"/><circle cx="302.8" cy="566.7" r="2.7"/></g>
<g stroke="#0000ff"><path d="M310.3 575.8V595.4M307.4 575.8H313.2M307.4 595.4H313.2"/><circle cx="310.3" cy="585.6" r="2.7"/></g>
<g stroke="#0000ff"><path d="M314.6 541.7V563.6M311.7 541.7H317.5M311.7 563.6H317.5"/><circle cx="314.6" cy="552.7" r="2.7"/></g>
<g stroke="#0000ff"><path d="M322.1 559.4V585.7M319.2 559.4H325.0M319.2 585.7H325.0"/><circle cx="322.1" cy="572.6" r="2.7"/></g>
<g stroke="#0000ff"><path d="M326.8 574.9V607.0M323.9 574.9H329.7M323.9 607.0H329.7"/><circle cx="326.8" cy="591.0" r="2.7"/></g>
<g stroke="#0000ff"><path d="M334.4 566.2V586.4M331.5 566.2H337.3M331.5 586.4H337.3"/><circle cx="334.4" cy="576.3" r="2.7"/></g>
<g stroke="#0000ff"><path d="M343.7 576.0V592.8M340.8 576.0H346.6M340.8 592.8H346.6"/><circle cx="343.7" cy="584.4" r="2.7"/></g>
<g stroke="#0000ff"><path d="M354.3 560.3V578.8M351.4 560.3H357.2M351.4 578.8H357.2"/><circle cx="354.3" cy="569.6" r="2.7"/></g>
<g stroke="#0000ff"><path d="M358.2 557.7V574.6M355.3 557.7H361.1M355.3 574.6H361.1"/><circle cx="358.2" cy="566.2" r="2.7"/></g>
<g stroke="#0000ff"><path d="M367.0 552.9V570.4M364.1 552.9H369.9M364.1 570.4H369.9"/><circle cx="367.0" cy="561.6" r="2.7"/></g>
<g stroke="#0000ff"><path d="M372.4 557.7V574.6M369.5 557.7H375.3M369.5 574.6H375.3"/><circle cx="372.4" cy="566.2" r="2.7"/></g>
<g stroke="#0000ff"><path d="M379.3 568.7V585.6M376.4 568.7H382.2M376.4 585.6H382.2"/><circle cx="379.3" cy="577.1" r="2.7"/></g>
<g stroke="#0000ff"><path d="M383.5 566.2V583.0M380.6 566.2H386.4M380.6 583.0H386.4"/><circle cx="383.5" cy="574.6" r="2.7"/></g>
<g stroke="#0000ff"><path d="M638.1 561.6V582.5M635.2 561.6H641.0M635.2 582.5H641.0"/><circle cx="638.1" cy="572.1" r="2.7"/></g>
<g stroke="#0000ff"><path d="M642.8 543.1V559.9M639.9 543.1H645.7M639.9 559.9H645.7"/><circle cx="642.8" cy="551.5" r="2.7"/></g>
<g stroke="#0000ff"><path d="M647.0 541.7V562.6M644.1 541.7H649.9M644.1 562.6H649.9"/><circle cx="647.0" cy="552.2" r="2.7"/></g>
<g stroke="#0000ff"><path d="M654.6 535.8V552.7M651.7 535.8H657.5M651.7 552.7H657.5"/><circle cx="654.6" cy="544.3" r="2.7"/></g>
<g stroke="#0000ff"><path d="M659.1 547.1V567.4M656.2 547.1H662.0M656.2 567.4H662.0"/><circle cx="659.1" cy="557.2" r="2.7"/></g>
<g stroke="#0000ff"><path d="M663.7 567.9V594.2M660.8 567.9H666.6M660.8 594.2H666.6"/><circle cx="663.7" cy="581.0" r="2.7"/></g>
<g stroke="#0000ff"><path d="M668.1 527.1V554.7M665.2 527.1H671.0M665.2 554.7H671.0"/><circle cx="668.1" cy="540.9" r="2.7"/></g>
<g stroke="#0000ff"><path d="M672.6 550.2V571.1M669.7 550.2H675.5M669.7 571.1H675.5"/><circle cx="672.6" cy="560.6" r="2.7"/></g>
<g stroke="#0000ff"><path d="M679.9 517.8V542.1M677.0 517.8H682.8M677.0 542.1H682.8"/><circle cx="679.9" cy="529.9" r="2.7"/></g>
<g stroke="#0000ff"><path d="M684.9 522.3V547.6M682.0 522.3H687.8M682.0 547.6H687.8"/><circle cx="684.9" cy="535.0" r="2.7"/></g>
<g stroke="#0000ff"><path d="M689.5 526.2V561.6M686.6 526.2H692.4M686.6 561.6H692.4"/><circle cx="689.5" cy="543.9" r="2.7"/></g>
<g stroke="#0000ff"><path d="M693.7 542.7V586.5M690.8 542.7H696.6M690.8 586.5H696.6"/><circle cx="693.7" cy="564.6" r="2.7"/></g>
<g stroke="#0000ff"><path d="M698.4 519.9V541.8M695.5 519.9H701.3M695.5 541.8H701.3"/><circle cx="698.4" cy="530.9" r="2.7"/></g>
<g stroke="#0000ff"><path d="M702.6 544.7V581.8M699.7 544.7H705.5M699.7 581.8H705.5"/><circle cx="702.6" cy="563.2" r="2.7"/></g>
<g stroke="#0000ff"><path d="M710.2 538.3V580.4M707.3 538.3H713.1M707.3 580.4H713.1"/><circle cx="710.2" cy="559.4" r="2.7"/></g>
<g stroke="#0000ff"><path d="M714.8 537.1V559.0M711.9 537.1H717.7M711.9 559.0H717.7"/><circle cx="714.8" cy="548.1" r="2.7"/></g>
<g stroke="#0000ff"><path d="M717.0 519.7V542.7M714.1 519.7H719.9M714.1 542.7H719.9"/><circle cx="717.0" cy="531.2" r="2.7"/></g>
<g stroke="#0000ff"><path d="M717.3 543.5V573.9M714.4 543.5H720.2M714.4 573.9H720.2"/><circle cx="717.3" cy="558.7" r="2.7"/></g>
<g stroke="#0000ff"><path d="M724.6 532.4V555.3M721.7 532.4H727.5M721.7 555.3H727.5"/><circle cx="724.6" cy="543.8" r="2.7"/></g>
<g stroke="#0000ff"><path d="M729.1 538.8V557.3M726.2 538.8H732.0M726.2 557.3H732.0"/><circle cx="729.1" cy="548.1" r="2.7"/></g>
<g stroke="#0000ff"><path d="M733.5 563.6V586.5M730.6 563.6H736.4M730.6 586.5H736.4"/><circle cx="733.5" cy="575.0" r="2.7"/></g>
<g stroke="#0000ff"><path d="M739.4 530.4V556.7M736.5 530.4H742.3M736.5 556.7H742.3"/><circle cx="739.4" cy="543.5" r="2.7"/></g>
<g stroke="#0000ff"><path d="M743.6 534.9V553.5M740.7 534.9H746.5M740.7 553.5H746.5"/><circle cx="743.6" cy="544.2" r="2.7"/></g>
<g stroke="#0000ff"><path d="M750.7 533.7V553.3M747.8 533.7H753.6M747.8 553.3H753.6"/><circle cx="750.7" cy="543.5" r="2.7"/></g>
<g stroke="#0000ff"><path d="M754.9 564.6V591.6M752.0 564.6H757.8M752.0 591.6H757.8"/><circle cx="754.9" cy="578.1" r="2.7"/></g>
<g stroke="#0000ff"><path d="M766.2 529.7V560.7M763.3 529.7H769.1M763.3 560.7H769.1"/><circle cx="766.2" cy="545.2" r="2.7"/></g>
<g stroke="#0000ff"><path d="M770.6 502.9V558.5M767.7 502.9H773.5M767.7 558.5H773.5"/><circle cx="770.6" cy="530.7" r="2.7"/></g>
<g stroke="#ff69b4"><path d="M348.8 570.4V585.6M345.9 570.4H351.7M345.9 585.6H351.7"/><circle cx="348.8" cy="578.0" r="2.7"/></g>
<g stroke="#ff69b4"><path d="M357.7 572.9V589.8M354.8 572.9H360.6M354.8 589.8H360.6"/><circle cx="357.7" cy="581.4" r="2.7"/></g>
<g stroke="#ff69b4"><path d="M365.0 570.4V587.3M362.1 570.4H367.9M362.1 587.3H367.9"/><circle cx="365.0" cy="578.8" r="2.7"/></g>
<g stroke="#ff69b4"><path d="M370.7 563.6V582.2M367.8 563.6H373.6M367.8 582.2H373.6"/><circle cx="370.7" cy="572.9" r="2.7"/></g>
<g stroke="#ff69b4"><path d="M383.5 539.2V591.5M380.6 539.2H386.4M380.6 591.5H386.4"/><circle cx="383.5" cy="565.3" r="2.7"/></g>
<g stroke="#ff69b4"><path d="M394.0 558.6V573.8M391.1 558.6H396.9M391.1 573.8H396.9"/><circle cx="394.0" cy="566.2" r="2.7"/></g>
<g stroke="#ff69b4"><path d="M402.4 543.9V562.5M399.5 543.9H405.3M399.5 562.5H405.3"/><circle cx="402.4" cy="553.2" r="2.7"/></g>
<g stroke="#ff69b4"><path d="M415.0 533.3V548.5M412.1 533.3H417.9M412.1 548.5H417.9"/><circle cx="415.0" cy="540.9" r="2.7"/></g>
<g stroke="#ff69b4"><path d="M420.9 525.4V549.7M418.0 525.4H423.8M418.0 549.7H423.8"/><circle cx="420.9" cy="537.5" r="2.7"/></g>
<g stroke="#ff0000"><path d="M354.7 572.4V589.3M351.8 572.4H357.6M351.8 589.3H357.6"/><circle cx="354.7" cy="580.8" r="2.7"/></g>
<g stroke="#ff0000"><path d="M361.1 558.6V575.5M358.2 558.6H364.0M358.2 575.5H364.0"/><circle cx="361.1" cy="567.0" r="2.7"/></g>
<g stroke="#ff0000"><path d="M367.5 569.7V587.3M364.6 569.7H370.4M364.6 587.3H370.4"/><circle cx="367.5" cy="578.5" r="2.7"/></g>
<g stroke="#ff0000"><path d="M374.1 554.4V578.0M371.2 554.4H377.0M371.2 578.0H377.0"/><circle cx="374.1" cy="566.2" r="2.7"/></g>
<g stroke="#ff0000"><path d="M380.0 537.7V568.7M377.1 537.7H382.9M377.1 568.7H382.9"/><circle cx="380.0" cy="553.2" r="2.7"/></g>
<g stroke="#ff0000"><path d="M388.1 559.6V580.5M385.2 559.6H391.0M385.2 580.5H391.0"/><circle cx="388.1" cy="570.1" r="2.7"/></g>
<g stroke="#ff0000"><path d="M397.3 524.9V553.5M394.4 524.9H400.2M394.4 553.5H400.2"/><circle cx="397.3" cy="539.2" r="2.7"/></g>
<g stroke="#ff0000"><path d="M404.9 527.7V563.1M402.0 527.7H407.8M402.0 563.1H407.8"/><circle cx="404.9" cy="545.4" r="2.7"/></g>
<g stroke="#ff0000"><path d="M411.2 514.1V548.5M408.3 514.1H414.1M408.3 548.5H414.1"/><circle cx="411.2" cy="531.3" r="2.7"/></g>
<g stroke="#000000"><path d="M353.8 529.9V554.2M350.9 529.9H356.7M350.9 554.2H356.7"/><circle cx="353.8" cy="542.1" r="2.7"/></g>
<g stroke="#000000"><path d="M379.3 554.9V575.8M376.4 554.9H382.2M376.4 575.8H382.2"/><circle cx="379.3" cy="565.3" r="2.7"/></g>
<g stroke="#000000"><path d="M393.6 552.2V571.7M390.7 552.2H396.5M390.7 571.7H396.5"/><circle cx="393.6" cy="562.0" r="2.7"/></g>
<g stroke="#000000"><path d="M429.0 558.9V579.2M426.1 558.9H431.9M426.1 579.2H431.9"/><circle cx="429.0" cy="569.0" r="2.7"/></g>
</g>
<path d="M117.0 564.6H810.0" stroke="#555" stroke-width="1.4"/>
<g clip-path="url(#c4)" fill="none" stroke-width="1.35">
<g stroke="#00e676"><path d="M119.7 682.4V700.9M116.8 682.4H122.6M116.8 700.9H122.6"/><circle cx="119.7" cy="691.6" r="2.7"/></g>
<g stroke="#00e676"><path d="M128.2 676.4V686.5M125.3 676.4H131.1M125.3 686.5H131.1"/><circle cx="128.2" cy="681.4" r="2.7"/></g>
<g stroke="#00e676"><path d="M135.6 684.0V695.8M132.7 684.0H138.5M132.7 695.8H138.5"/><circle cx="135.6" cy="689.9" r="2.7"/></g>
<g stroke="#00e676"><path d="M139.5 679.2V689.3M136.6 679.2H142.4M136.6 689.3H142.4"/><circle cx="139.5" cy="684.2" r="2.7"/></g>
<g stroke="#00e676"><path d="M144.0 690.1V715.4M141.1 690.1H146.9M141.1 715.4H146.9"/><circle cx="144.0" cy="702.8" r="2.7"/></g>
<g stroke="#00e676"><path d="M148.7 674.5V687.4M145.8 674.5H151.6M145.8 687.4H151.6"/><circle cx="148.7" cy="681.0" r="2.7"/></g>
<g stroke="#00e676"><path d="M152.9 683.3V695.1M150.0 683.3H155.8M150.0 695.1H155.8"/><circle cx="152.9" cy="689.2" r="2.7"/></g>
<g stroke="#00e676"><path d="M159.2 671.3V684.8M156.3 671.3H162.1M156.3 684.8H162.1"/><circle cx="159.2" cy="678.0" r="2.7"/></g>
<g stroke="#00e676"><path d="M164.4 678.9V695.1M161.5 678.9H167.3M161.5 695.1H167.3"/><circle cx="164.4" cy="687.0" r="2.7"/></g>
<g stroke="#00e676"><path d="M173.5 671.0V696.3M170.6 671.0H176.4M170.6 696.3H176.4"/><circle cx="173.5" cy="683.7" r="2.7"/></g>
<g stroke="#00e676"><path d="M177.7 686.4V704.9M174.8 686.4H180.6M174.8 704.9H180.6"/><circle cx="177.7" cy="695.6" r="2.7"/></g>
<g stroke="#00e676"><path d="M184.6 664.7V683.3M181.7 664.7H187.5M181.7 683.3H187.5"/><circle cx="184.6" cy="674.0" r="2.7"/></g>
<g stroke="#00e676"><path d="M196.8 671.9V685.4M193.9 671.9H199.7M193.9 685.4H199.7"/><circle cx="196.8" cy="678.6" r="2.7"/></g>
<g stroke="#00e676"><path d="M201.0 691.4V705.6M198.1 691.4H203.9M198.1 705.6H203.9"/><circle cx="201.0" cy="698.5" r="2.7"/></g>
<g stroke="#00e676"><path d="M206.1 684.0V697.5M203.2 684.0H209.0M203.2 697.5H209.0"/><circle cx="206.1" cy="690.8" r="2.7"/></g>
<g stroke="#00e676"><path d="M210.3 690.1V702.9M207.4 690.1H213.2M207.4 702.9H213.2"/><circle cx="210.3" cy="696.5" r="2.7"/></g>
<g stroke="#00e676"><path d="M219.2 680.4V699.9M216.3 680.4H222.1M216.3 699.9H222.1"/><circle cx="219.2" cy="690.2" r="2.7"/></g>
<g stroke="#00e676"><path d="M225.5 679.3V692.1M222.6 679.3H228.4M222.6 692.1H228.4"/><circle cx="225.5" cy="685.7" r="2.7"/></g>
<g stroke="#00e676"><path d="M228.8 682.5V697.7M225.9 682.5H231.7M225.9 697.7H231.7"/><circle cx="228.8" cy="690.1" r="2.7"/></g>
<g stroke="#00e676"><path d="M232.5 698.1V713.3M229.6 698.1H235.4M229.6 713.3H235.4"/><circle cx="232.5" cy="705.7" r="2.7"/></g>
<g stroke="#00e676"><path d="M236.8 687.2V700.1M233.9 687.2H239.7M233.9 700.1H239.7"/><circle cx="236.8" cy="693.6" r="2.7"/></g>
<g stroke="#00e676"><path d="M246.3 683.7V706.6M243.4 683.7H249.2M243.4 706.6H249.2"/><circle cx="246.3" cy="695.2" r="2.7"/></g>
<g stroke="#00e676"><path d="M496.6 666.6V681.7M493.7 666.6H499.5M493.7 681.7H499.5"/><circle cx="496.6" cy="674.1" r="2.7"/></g>
<g stroke="#00e676"><path d="M501.7 681.9V698.1M498.8 681.9H504.6M498.8 698.1H504.6"/><circle cx="501.7" cy="690.0" r="2.7"/></g>
<g stroke="#00e676"><path d="M506.3 671.3V686.5M503.4 671.3H509.2M503.4 686.5H509.2"/><circle cx="506.3" cy="678.9" r="2.7"/></g>
<g stroke="#00e676"><path d="M510.0 664.3V678.5M507.1 664.3H512.9M507.1 678.5H512.9"/><circle cx="510.0" cy="671.4" r="2.7"/></g>
<g stroke="#00e676"><path d="M514.7 653.2V668.4M511.8 653.2H517.6M511.8 668.4H517.6"/><circle cx="514.7" cy="660.8" r="2.7"/></g>
<g stroke="#00e676"><path d="M521.8 655.9V674.4M518.9 655.9H524.7M518.9 674.4H524.7"/><circle cx="521.8" cy="665.2" r="2.7"/></g>
<g stroke="#00e676"><path d="M526.5 661.3V679.9M523.6 661.3H529.4M523.6 679.9H529.4"/><circle cx="526.5" cy="670.6" r="2.7"/></g>
<g stroke="#00e676"><path d="M530.7 658.5V675.3M527.8 658.5H533.6M527.8 675.3H533.6"/><circle cx="530.7" cy="666.9" r="2.7"/></g>
<g stroke="#00e676"><path d="M535.4 634.3V674.7M532.5 634.3H538.3M532.5 674.7H538.3"/><circle cx="535.4" cy="654.5" r="2.7"/></g>
<g stroke="#00e676"><path d="M540.0 647.2V682.6M537.1 647.2H542.9M537.1 682.6H542.9"/><circle cx="540.0" cy="664.9" r="2.7"/></g>
<g stroke="#00e676"><path d="M545.0 654.2V694.7M542.1 654.2H547.9M542.1 694.7H547.9"/><circle cx="545.0" cy="674.5" r="2.7"/></g>
<g stroke="#00e676"><path d="M550.9 667.8V691.4M548.0 667.8H553.8M548.0 691.4H553.8"/><circle cx="550.9" cy="679.6" r="2.7"/></g>
<g stroke="#00e676"><path d="M556.0 674.0V692.6M553.1 674.0H558.9M553.1 692.6H558.9"/><circle cx="556.0" cy="683.3" r="2.7"/></g>
<g stroke="#00e676"><path d="M560.6 641.8V673.9M557.7 641.8H563.5M557.7 673.9H563.5"/><circle cx="560.6" cy="657.9" r="2.7"/></g>
<g stroke="#00e676"><path d="M564.8 663.2V676.7M561.9 663.2H567.7M561.9 676.7H567.7"/><circle cx="564.8" cy="670.0" r="2.7"/></g>
<g stroke="#00e676"><path d="M569.8 645.8V672.1M566.9 645.8H572.7M566.9 672.1H572.7"/><circle cx="569.8" cy="659.0" r="2.7"/></g>
<g stroke="#00e676"><path d="M577.1 649.7V668.3M574.2 649.7H580.0M574.2 668.3H580.0"/><circle cx="577.1" cy="659.0" r="2.7"/></g>
<g stroke="#00e676"><path d="M581.6 649.9V673.5M578.7 649.9H584.5M578.7 673.5H584.5"/><circle cx="581.6" cy="661.7" r="2.7"/></g>
<g stroke="#00e676"><path d="M586.4 658.0V678.3M583.5 658.0H589.3M583.5 678.3H589.3"/><circle cx="586.4" cy="668.1" r="2.7"/></g>
<g stroke="#00e676"><path d="M590.8 672.1V700.7M587.9 672.1H593.7M587.9 700.7H593.7"/><circle cx="590.8" cy="686.4" r="2.7"/></g>
<g stroke="#00e676"><path d="M592.9 672.3V692.6M590.0 672.3H595.8M590.0 692.6H595.8"/><circle cx="592.9" cy="682.4" r="2.7"/></g>
<g stroke="#00e676"><path d="M597.3 681.6V701.8M594.4 681.6H600.2M594.4 701.8H600.2"/><circle cx="597.3" cy="691.7" r="2.7"/></g>
<g stroke="#00e676"><path d="M604.7 639.0V662.6M601.8 639.0H607.6M601.8 662.6H607.6"/><circle cx="604.7" cy="650.8" r="2.7"/></g>
<g stroke="#00e676"><path d="M609.4 667.3V684.2M606.5 667.3H612.3M606.5 684.2H612.3"/><circle cx="609.4" cy="675.8" r="2.7"/></g>
<g stroke="#00e676"><path d="M613.9 660.0V678.6M611.0 660.0H616.8M611.0 678.6H616.8"/><circle cx="613.9" cy="669.3" r="2.7"/></g>
<g stroke="#00e676"><path d="M618.7 673.3V691.9M615.8 673.3H621.6M615.8 691.9H621.6"/><circle cx="618.7" cy="682.6" r="2.7"/></g>
<g stroke="#00e676"><path d="M622.9 649.9V681.9M620.0 649.9H625.8M620.0 681.9H625.8"/><circle cx="622.9" cy="665.9" r="2.7"/></g>
<g stroke="#00e676"><path d="M630.1 635.7V665.4M627.2 635.7H633.0M627.2 665.4H633.0"/><circle cx="630.1" cy="650.6" r="2.7"/></g>
<g stroke="#228b22"><path d="M118.0 683.9V695.8M115.1 683.9H120.9M115.1 695.8H120.9"/><circle cx="118.0" cy="689.8" r="2.7"/></g>
<g stroke="#228b22"><path d="M122.1 683.0V694.8M119.2 683.0H125.0M119.2 694.8H125.0"/><circle cx="122.1" cy="688.9" r="2.7"/></g>
<g stroke="#228b22"><path d="M126.0 684.8V697.7M123.1 684.8H128.9M123.1 697.7H128.9"/><circle cx="126.0" cy="691.3" r="2.7"/></g>
<g stroke="#228b22"><path d="M132.7 675.6V688.4M129.8 675.6H135.6M129.8 688.4H135.6"/><circle cx="132.7" cy="682.0" r="2.7"/></g>
<g stroke="#228b22"><path d="M137.4 664.0V680.8M134.5 664.0H140.3M134.5 680.8H140.3"/><circle cx="137.4" cy="672.4" r="2.7"/></g>
<g stroke="#228b22"><path d="M141.6 672.1V688.9M138.7 672.1H144.5M138.7 688.9H144.5"/><circle cx="141.6" cy="680.5" r="2.7"/></g>
<g stroke="#228b22"><path d="M146.2 688.1V719.1M143.3 688.1H149.1M143.3 719.1H149.1"/><circle cx="146.2" cy="703.6" r="2.7"/></g>
<g stroke="#228b22"><path d="M150.9 692.0V705.5M148.0 692.0H153.8M148.0 705.5H153.8"/><circle cx="150.9" cy="698.8" r="2.7"/></g>
<g stroke="#228b22"><path d="M157.2 671.5V684.3M154.3 671.5H160.1M154.3 684.3H160.1"/><circle cx="157.2" cy="677.9" r="2.7"/></g>
<g stroke="#228b22"><path d="M160.2 672.0V684.8M157.3 672.0H163.1M157.3 684.8H163.1"/><circle cx="160.2" cy="678.4" r="2.7"/></g>
<g stroke="#228b22"><path d="M162.2 674.8V691.6M159.3 674.8H165.1M159.3 691.6H165.1"/><circle cx="162.2" cy="683.2" r="2.7"/></g>
<g stroke="#228b22"><path d="M166.9 685.4V698.2M164.0 685.4H169.8M164.0 698.2H169.8"/><circle cx="166.9" cy="691.8" r="2.7"/></g>
<g stroke="#228b22"><path d="M176.0 684.1V697.6M173.1 684.1H178.9M173.1 697.6H178.9"/><circle cx="176.0" cy="690.9" r="2.7"/></g>
<g stroke="#228b22"><path d="M179.9 678.0V696.6M177.0 678.0H182.8M177.0 696.6H182.8"/><circle cx="179.9" cy="687.3" r="2.7"/></g>
<g stroke="#228b22"><path d="M187.0 691.0V707.8M184.1 691.0H189.9M184.1 707.8H189.9"/><circle cx="187.0" cy="699.4" r="2.7"/></g>
<g stroke="#228b22"><path d="M194.6 670.5V685.6M191.7 670.5H197.5M191.7 685.6H197.5"/><circle cx="194.6" cy="678.1" r="2.7"/></g>
<g stroke="#228b22"><path d="M198.8 676.2V690.3M195.9 676.2H201.7M195.9 690.3H201.7"/><circle cx="198.8" cy="683.2" r="2.7"/></g>
<g stroke="#228b22"><path d="M203.2 699.7V712.6M200.3 699.7H206.1M200.3 712.6H206.1"/><circle cx="203.2" cy="706.1" r="2.7"/></g>
<g stroke="#228b22"><path d="M208.1 679.9V693.4M205.2 679.9H211.0M205.2 693.4H211.0"/><circle cx="208.1" cy="686.6" r="2.7"/></g>
<g stroke="#228b22"><path d="M212.5 678.1V691.5M209.6 678.1H215.4M209.6 691.5H215.4"/><circle cx="212.5" cy="684.8" r="2.7"/></g>
<g stroke="#228b22"><path d="M221.6 674.2V695.1M218.7 674.2H224.5M218.7 695.1H224.5"/><circle cx="221.6" cy="684.7" r="2.7"/></g>
<g stroke="#228b22"><path d="M223.8 682.3V695.8M220.9 682.3H226.7M220.9 695.8H226.7"/><circle cx="223.8" cy="689.0" r="2.7"/></g>
<g stroke="#228b22"><path d="M227.1 679.0V692.5M224.2 679.0H230.0M224.2 692.5H230.0"/><circle cx="227.1" cy="685.8" r="2.7"/></g>
<g stroke="#228b22"><path d="M230.5 674.4V687.9M227.6 674.4H233.4M227.6 687.9H233.4"/><circle cx="230.5" cy="681.2" r="2.7"/></g>
<g stroke="#228b22"><path d="M234.7 691.1V707.2M231.8 691.1H237.6M231.8 707.2H237.6"/><circle cx="234.7" cy="699.1" r="2.7"/></g>
<g stroke="#228b22"><path d="M238.9 695.6V711.7M236.0 695.6H241.8M236.0 711.7H241.8"/><circle cx="238.9" cy="703.6" r="2.7"/></g>
<g stroke="#228b22"><path d="M499.2 677.3V694.2M496.3 677.3H502.1M496.3 694.2H502.1"/><circle cx="499.2" cy="685.7" r="2.7"/></g>
<g stroke="#228b22"><path d="M504.2 670.8V684.3M501.3 670.8H507.1M501.3 684.3H507.1"/><circle cx="504.2" cy="677.5" r="2.7"/></g>
<g stroke="#228b22"><path d="M507.9 672.7V686.9M505.0 672.7H510.8M505.0 686.9H510.8"/><circle cx="507.9" cy="679.8" r="2.7"/></g>
<g stroke="#228b22"><path d="M512.2 674.4V689.6M509.3 674.4H515.1M509.3 689.6H515.1"/><circle cx="512.2" cy="682.0" r="2.7"/></g>
<g stroke="#228b22"><path d="M516.9 654.7V671.6M514.0 654.7H519.8M514.0 671.6H519.8"/><circle cx="516.9" cy="663.1" r="2.7"/></g>
<g stroke="#228b22"><path d="M524.0 663.3V678.4M521.1 663.3H526.9M521.1 678.4H526.9"/><circle cx="524.0" cy="670.8" r="2.7"/></g>
<g stroke="#228b22"><path d="M528.7 660.2V694.0M525.8 660.2H531.6M525.8 694.0H531.6"/><circle cx="528.7" cy="677.1" r="2.7"/></g>
<g stroke="#228b22"><path d="M533.2 664.5V698.2M530.3 664.5H536.1M530.3 698.2H536.1"/><circle cx="533.2" cy="681.4" r="2.7"/></g>
<g stroke="#228b22"><path d="M538.0 655.2V693.9M535.1 655.2H540.9M535.1 693.9H540.9"/><circle cx="538.0" cy="674.5" r="2.7"/></g>
<g stroke="#228b22"><path d="M542.5 656.4V703.6M539.6 656.4H545.4M539.6 703.6H545.4"/><circle cx="542.5" cy="680.0" r="2.7"/></g>
<g stroke="#228b22"><path d="M548.9 655.5V685.9M546.0 655.5H551.8M546.0 685.9H551.8"/><circle cx="548.9" cy="670.7" r="2.7"/></g>
<g stroke="#228b22"><path d="M553.8 661.4V682.3M550.9 661.4H556.7M550.9 682.3H556.7"/><circle cx="553.8" cy="671.8" r="2.7"/></g>
<g stroke="#228b22"><path d="M558.5 667.9V686.4M555.6 667.9H561.4M555.6 686.4H561.4"/><circle cx="558.5" cy="677.1" r="2.7"/></g>
<g stroke="#228b22"><path d="M562.7 641.2V662.1M559.8 641.2H565.6M559.8 662.1H565.6"/><circle cx="562.7" cy="651.6" r="2.7"/></g>
<g stroke="#228b22"><path d="M567.5 680.4V705.7M564.6 680.4H570.4M564.6 705.7H570.4"/><circle cx="567.5" cy="693.1" r="2.7"/></g>
<g stroke="#228b22"><path d="M575.1 669.9V690.8M572.2 669.9H578.0M572.2 690.8H578.0"/><circle cx="575.1" cy="680.4" r="2.7"/></g>
<g stroke="#228b22"><path d="M579.6 647.4V664.2M576.7 647.4H582.5M576.7 664.2H582.5"/><circle cx="579.6" cy="655.8" r="2.7"/></g>
<g stroke="#228b22"><path d="M584.2 656.7V686.4M581.3 656.7H587.1M581.3 686.4H587.1"/><circle cx="584.2" cy="671.6" r="2.7"/></g>
<g stroke="#228b22"><path d="M588.5 662.2V687.5M585.6 662.2H591.4M585.6 687.5H591.4"/><circle cx="588.5" cy="674.8" r="2.7"/></g>
<g stroke="#228b22"><path d="M594.7 652.0V680.6M591.8 652.0H597.6M591.8 680.6H597.6"/><circle cx="594.7" cy="666.3" r="2.7"/></g>
<g stroke="#228b22"><path d="M602.1 652.1V669.0M599.2 652.1H605.0M599.2 669.0H605.0"/><circle cx="602.1" cy="660.6" r="2.7"/></g>
<g stroke="#228b22"><path d="M606.9 647.1V668.0M604.0 647.1H609.8M604.0 668.0H609.8"/><circle cx="606.9" cy="657.5" r="2.7"/></g>
<g stroke="#228b22"><path d="M611.9 651.0V671.2M609.0 651.0H614.8M609.0 671.2H614.8"/><circle cx="611.9" cy="661.1" r="2.7"/></g>
<g stroke="#228b22"><path d="M616.1 654.7V674.9M613.2 654.7H619.0M613.2 674.9H619.0"/><circle cx="616.1" cy="664.8" r="2.7"/></g>
<g stroke="#228b22"><path d="M620.9 673.9V694.8M618.0 673.9H623.8M618.0 694.8H623.8"/><circle cx="620.9" cy="684.4" r="2.7"/></g>
<g stroke="#228b22"><path d="M627.6 674.4V697.4M624.7 674.4H630.5M624.7 697.4H630.5"/><circle cx="627.6" cy="685.9" r="2.7"/></g>
<g stroke="#228b22"><path d="M632.7 644.2V686.4M629.8 644.2H635.6M629.8 686.4H635.6"/><circle cx="632.7" cy="665.3" r="2.7"/></g>
<g stroke="#1e90ff"><path d="M265.7 666.8V684.4M262.8 666.8H268.6M262.8 684.4H268.6"/><circle cx="265.7" cy="675.6" r="2.7"/></g>
<g stroke="#1e90ff"><path d="M270.3 686.6V711.9M267.4 686.6H273.2M267.4 711.9H273.2"/><circle cx="270.3" cy="699.2" r="2.7"/></g>
<g stroke="#1e90ff"><path d="M275.0 685.2V704.8M272.1 685.2H277.9M272.1 704.8H277.9"/><circle cx="275.0" cy="695.0" r="2.7"/></g>
<g stroke="#1e90ff"><path d="M279.6 684.9V718.6M276.7 684.9H282.5M276.7 718.6H282.5"/><circle cx="279.6" cy="701.8" r="2.7"/></g>
<g stroke="#1e90ff"><path d="M300.6 682.3V695.7M297.7 682.3H303.5M297.7 695.7H303.5"/><circle cx="300.6" cy="689.0" r="2.7"/></g>
<g stroke="#1e90ff"><path d="M306.9 668.8V684.0M304.0 668.8H309.8M304.0 684.0H309.8"/><circle cx="306.9" cy="676.4" r="2.7"/></g>
<g stroke="#1e90ff"><path d="M312.5 685.5V700.7M309.6 685.5H315.4M309.6 700.7H315.4"/><circle cx="312.5" cy="693.1" r="2.7"/></g>
<g stroke="#1e90ff"><path d="M319.2 685.3V699.4M316.3 685.3H322.1M316.3 699.4H322.1"/><circle cx="319.2" cy="692.3" r="2.7"/></g>
<g stroke="#1e90ff"><path d="M324.3 676.5V695.1M321.4 676.5H327.2M321.4 695.1H327.2"/><circle cx="324.3" cy="685.8" r="2.7"/></g>
<g stroke="#1e90ff"><path d="M329.3 695.2V710.4M326.4 695.2H332.2M326.4 710.4H332.2"/><circle cx="329.3" cy="702.8" r="2.7"/></g>
<g stroke="#1e90ff"><path d="M336.9 679.0V695.8M334.0 679.0H339.8M334.0 695.8H339.8"/><circle cx="336.9" cy="687.4" r="2.7"/></g>
<g stroke="#1e90ff"><path d="M345.9 669.2V684.4M343.0 669.2H348.8M343.0 684.4H348.8"/><circle cx="345.9" cy="676.8" r="2.7"/></g>
<g stroke="#1e90ff"><path d="M341.3 697.3V714.2M338.4 697.3H344.2M338.4 714.2H344.2"/><circle cx="341.3" cy="705.7" r="2.7"/></g>
<g stroke="#1e90ff"><path d="M355.7 695.1V712.0M352.8 695.1H358.6M352.8 712.0H358.6"/><circle cx="355.7" cy="703.5" r="2.7"/></g>
<g stroke="#1e90ff"><path d="M363.6 674.1V690.9M360.7 674.1H366.5M360.7 690.9H366.5"/><circle cx="363.6" cy="682.5" r="2.7"/></g>
<g stroke="#1e90ff"><path d="M369.0 658.6V675.5M366.1 658.6H371.9M366.1 675.5H371.9"/><circle cx="369.0" cy="667.1" r="2.7"/></g>
<g stroke="#1e90ff"><path d="M374.1 674.8V693.3M371.2 674.8H377.0M371.2 693.3H377.0"/><circle cx="374.1" cy="684.1" r="2.7"/></g>
<g stroke="#1e90ff"><path d="M635.2 674.9V699.2M632.3 674.9H638.1M632.3 699.2H638.1"/><circle cx="635.2" cy="687.1" r="2.7"/></g>
<g stroke="#1e90ff"><path d="M640.1 690.6V709.1M637.2 690.6H643.0M637.2 709.1H643.0"/><circle cx="640.1" cy="699.8" r="2.7"/></g>
<g stroke="#1e90ff"><path d="M644.8 688.1V706.7M641.9 688.1H647.7M641.9 706.7H647.7"/><circle cx="644.8" cy="697.4" r="2.7"/></g>
<g stroke="#1e90ff"><path d="M649.0 669.0V693.3M646.1 669.0H651.9M646.1 693.3H651.9"/><circle cx="649.0" cy="681.2" r="2.7"/></g>
<g stroke="#1e90ff"><path d="M657.1 658.5V677.1M654.2 658.5H660.0M654.2 677.1H660.0"/><circle cx="657.1" cy="667.8" r="2.7"/></g>
<g stroke="#1e90ff"><path d="M661.3 679.0V697.6M658.4 679.0H664.2M658.4 697.6H664.2"/><circle cx="661.3" cy="688.3" r="2.7"/></g>
<g stroke="#1e90ff"><path d="M665.9 659.3V682.2M663.0 659.3H668.8M663.0 682.2H668.8"/><circle cx="665.9" cy="670.8" r="2.7"/></g>
<g stroke="#1e90ff"><path d="M670.9 655.4V676.3M668.0 655.4H673.8M668.0 676.3H673.8"/><circle cx="670.9" cy="665.9" r="2.7"/></g>
<g stroke="#1e90ff"><path d="M687.0 673.5V691.1M684.1 673.5H689.9M684.1 691.1H689.9"/><circle cx="687.0" cy="682.3" r="2.7"/></g>
<g stroke="#1e90ff"><path d="M707.7 652.1V671.7M704.8 652.1H710.6M704.8 671.7H710.6"/><circle cx="707.7" cy="661.9" r="2.7"/></g>
<g stroke="#1e90ff"><path d="M712.4 663.6V688.9M709.5 663.6H715.3M709.5 688.9H715.3"/><circle cx="712.4" cy="676.2" r="2.7"/></g>
<g stroke="#1e90ff"><path d="M719.5 682.1V713.1M716.6 682.1H722.4M716.6 713.1H722.4"/><circle cx="719.5" cy="697.6" r="2.7"/></g>
<g stroke="#1e90ff"><path d="M726.8 682.1V703.0M723.9 682.1H729.7M723.9 703.0H729.7"/><circle cx="726.8" cy="692.6" r="2.7"/></g>
<g stroke="#1e90ff"><path d="M731.3 658.5V680.4M728.4 658.5H734.2M728.4 680.4H734.2"/><circle cx="731.3" cy="669.5" r="2.7"/></g>
<g stroke="#1e90ff"><path d="M737.7 684.6V708.3M734.8 684.6H740.6M734.8 708.3H740.6"/><circle cx="737.7" cy="696.5" r="2.7"/></g>
<g stroke="#1e90ff"><path d="M741.4 663.6V683.8M738.5 663.6H744.3M738.5 683.8H744.3"/><circle cx="741.4" cy="673.7" r="2.7"/></g>
<g stroke="#1e90ff"><path d="M748.2 663.2V686.8M745.3 663.2H751.1M745.3 686.8H751.1"/><circle cx="748.2" cy="675.0" r="2.7"/></g>
<g stroke="#1e90ff"><path d="M752.7 674.2V699.5M749.8 674.2H755.6M749.8 699.5H755.6"/><circle cx="752.7" cy="686.8" r="2.7"/></g>
<g stroke="#1e90ff"><path d="M757.5 654.0V677.6M754.6 654.0H760.4M754.6 677.6H760.4"/><circle cx="757.5" cy="665.8" r="2.7"/></g>
<g stroke="#1e90ff"><path d="M763.7 662.4V694.4M760.8 662.4H766.6M760.8 694.4H766.6"/><circle cx="763.7" cy="678.4" r="2.7"/></g>
<g stroke="#1e90ff"><path d="M767.9 671.2V706.6M765.0 671.2H770.8M765.0 706.6H770.8"/><circle cx="767.9" cy="688.9" r="2.7"/></g>
<g stroke="#0000ff"><path d="M255.1 690.5V705.6M252.2 690.5H258.0M252.2 705.6H258.0"/><circle cx="255.1" cy="698.0" r="2.7"/></g>
<g stroke="#0000ff"><path d="M261.0 699.7V714.9M258.1 699.7H263.9M258.1 714.9H263.9"/><circle cx="261.0" cy="707.3" r="2.7"/></g>
<g stroke="#0000ff"><path d="M267.8 676.5V693.3M264.9 676.5H270.7M264.9 693.3H270.7"/><circle cx="267.8" cy="684.9" r="2.7"/></g>
<g stroke="#0000ff"><path d="M272.8 684.6V701.4M269.9 684.6H275.7M269.9 701.4H275.7"/><circle cx="272.8" cy="693.0" r="2.7"/></g>
<g stroke="#0000ff"><path d="M277.4 684.9V725.4M274.5 684.9H280.3M274.5 725.4H280.3"/><circle cx="277.4" cy="705.1" r="2.7"/></g>
<g stroke="#0000ff"><path d="M281.8 680.8V718.6M278.9 680.8H284.7M278.9 718.6H284.7"/><circle cx="281.8" cy="699.7" r="2.7"/></g>
<g stroke="#0000ff"><path d="M293.9 681.7V707.0M291.0 681.7H296.8M291.0 707.0H296.8"/><circle cx="293.9" cy="694.3" r="2.7"/></g>
<g stroke="#0000ff"><path d="M302.8 674.5V700.8M299.9 674.5H305.7M299.9 700.8H305.7"/><circle cx="302.8" cy="687.6" r="2.7"/></g>
<g stroke="#0000ff"><path d="M310.3 695.5V715.1M307.4 695.5H313.2M307.4 715.1H313.2"/><circle cx="310.3" cy="705.3" r="2.7"/></g>
<g stroke="#0000ff"><path d="M314.6 660.6V682.5M311.7 660.6H317.5M311.7 682.5H317.5"/><circle cx="314.6" cy="671.6" r="2.7"/></g>
<g stroke="#0000ff"><path d="M322.1 677.8V704.1M319.2 677.8H325.0M319.2 704.1H325.0"/><circle cx="322.1" cy="691.0" r="2.7"/></g>
<g stroke="#0000ff"><path d="M326.8 692.4V724.4M323.9 692.4H329.7M323.9 724.4H329.7"/><circle cx="326.8" cy="708.4" r="2.7"/></g>
<g stroke="#0000ff"><path d="M334.4 682.1V702.4M331.5 682.1H337.3M331.5 702.4H337.3"/><circle cx="334.4" cy="692.3" r="2.7"/></g>
<g stroke="#0000ff"><path d="M343.7 690.5V707.4M340.8 690.5H346.6M340.8 707.4H346.6"/><circle cx="343.7" cy="698.9" r="2.7"/></g>
<g stroke="#0000ff"><path d="M354.3 670.8V689.4M351.4 670.8H357.2M351.4 689.4H357.2"/><circle cx="354.3" cy="680.1" r="2.7"/></g>
<g stroke="#0000ff"><path d="M358.2 666.9V683.7M355.3 666.9H361.1M355.3 683.7H361.1"/><circle cx="358.2" cy="675.3" r="2.7"/></g>
<g stroke="#0000ff"><path d="M367.0 658.6V676.1M364.1 658.6H369.9M364.1 676.1H369.9"/><circle cx="367.0" cy="667.4" r="2.7"/></g>
<g stroke="#0000ff"><path d="M372.4 661.8V678.7M369.5 661.8H375.3M369.5 678.7H375.3"/><circle cx="372.4" cy="670.2" r="2.7"/></g>
<g stroke="#0000ff"><path d="M379.3 670.6V687.5M376.4 670.6H382.2M376.4 687.5H382.2"/><circle cx="379.3" cy="679.1" r="2.7"/></g>
<g stroke="#0000ff"><path d="M383.5 667.0V683.8M380.6 667.0H386.4M380.6 683.8H386.4"/><circle cx="383.5" cy="675.4" r="2.7"/></g>
<g stroke="#0000ff"><path d="M638.1 684.3V705.2M635.2 684.3H641.0M635.2 705.2H641.0"/><circle cx="638.1" cy="694.7" r="2.7"/></g>
<g stroke="#0000ff"><path d="M642.8 665.8V682.7M639.9 665.8H645.7M639.9 682.7H645.7"/><circle cx="642.8" cy="674.3" r="2.7"/></g>
<g stroke="#0000ff"><path d="M647.0 664.6V685.5M644.1 664.6H649.9M644.1 685.5H649.9"/><circle cx="647.0" cy="675.0" r="2.7"/></g>
<g stroke="#0000ff"><path d="M654.6 659.1V676.0M651.7 659.1H657.5M651.7 676.0H657.5"/><circle cx="654.6" cy="667.6" r="2.7"/></g>
<g stroke="#0000ff"><path d="M659.1 670.8V691.1M656.2 670.8H662.0M656.2 691.1H662.0"/><circle cx="659.1" cy="680.9" r="2.7"/></g>
<g stroke="#0000ff"><path d="M663.7 691.8V718.1M660.8 691.8H666.6M660.8 718.1H666.6"/><circle cx="663.7" cy="704.9" r="2.7"/></g>
<g stroke="#0000ff"><path d="M668.1 651.1V678.8M665.2 651.1H671.0M665.2 678.8H671.0"/><circle cx="668.1" cy="664.9" r="2.7"/></g>
<g stroke="#0000ff"><path d="M672.6 674.4V695.3M669.7 674.4H675.5M669.7 695.3H675.5"/><circle cx="672.6" cy="684.8" r="2.7"/></g>
<g stroke="#0000ff"><path d="M679.9 642.2V666.5M677.0 642.2H682.8M677.0 666.5H682.8"/><circle cx="679.9" cy="654.4" r="2.7"/></g>
<g stroke="#0000ff"><path d="M684.9 646.9V672.2M682.0 646.9H687.8M682.0 672.2H687.8"/><circle cx="684.9" cy="659.5" r="2.7"/></g>
<g stroke="#0000ff"><path d="M689.5 650.8V686.2M686.6 650.8H692.4M686.6 686.2H692.4"/><circle cx="689.5" cy="668.5" r="2.7"/></g>
<g stroke="#0000ff"><path d="M693.7 667.3V711.2M690.8 667.3H696.6M690.8 711.2H696.6"/><circle cx="693.7" cy="689.3" r="2.7"/></g>
<g stroke="#0000ff"><path d="M698.4 644.7V666.6M695.5 644.7H701.3M695.5 666.6H701.3"/><circle cx="698.4" cy="655.6" r="2.7"/></g>
<g stroke="#0000ff"><path d="M702.6 669.5V706.6M699.7 669.5H705.5M699.7 706.6H705.5"/><circle cx="702.6" cy="688.0" r="2.7"/></g>
<g stroke="#0000ff"><path d="M710.2 663.1V705.2M707.3 663.1H713.1M707.3 705.2H713.1"/><circle cx="710.2" cy="684.1" r="2.7"/></g>
<g stroke="#0000ff"><path d="M714.8 661.9V683.8M711.9 661.9H717.7M711.9 683.8H717.7"/><circle cx="714.8" cy="672.8" r="2.7"/></g>
<g stroke="#0000ff"><path d="M717.0 644.5V667.4M714.1 644.5H719.9M714.1 667.4H719.9"/><circle cx="717.0" cy="656.0" r="2.7"/></g>
<g stroke="#0000ff"><path d="M717.3 668.3V698.6M714.4 668.3H720.2M714.4 698.6H720.2"/><circle cx="717.3" cy="683.5" r="2.7"/></g>
<g stroke="#0000ff"><path d="M724.6 657.2V680.1M721.7 657.2H727.5M721.7 680.1H727.5"/><circle cx="724.6" cy="668.6" r="2.7"/></g>
<g stroke="#0000ff"><path d="M729.1 663.6V682.1M726.2 663.6H732.0M726.2 682.1H732.0"/><circle cx="729.1" cy="672.8" r="2.7"/></g>
<g stroke="#0000ff"><path d="M733.5 688.4V711.3M730.6 688.4H736.4M730.6 711.3H736.4"/><circle cx="733.5" cy="699.8" r="2.7"/></g>
<g stroke="#0000ff"><path d="M739.4 655.1V681.4M736.5 655.1H742.3M736.5 681.4H742.3"/><circle cx="739.4" cy="668.3" r="2.7"/></g>
<g stroke="#0000ff"><path d="M743.6 659.7V678.2M740.7 659.7H746.5M740.7 678.2H746.5"/><circle cx="743.6" cy="669.0" r="2.7"/></g>
<g stroke="#0000ff"><path d="M750.7 658.5V678.1M747.8 658.5H753.6M747.8 678.1H753.6"/><circle cx="750.7" cy="668.3" r="2.7"/></g>
<g stroke="#0000ff"><path d="M754.9 689.4V716.4M752.0 689.4H757.8M752.0 716.4H757.8"/><circle cx="754.9" cy="702.9" r="2.7"/></g>
<g stroke="#0000ff"><path d="M766.2 654.5V685.5M763.3 654.5H769.1M763.3 685.5H769.1"/><circle cx="766.2" cy="670.0" r="2.7"/></g>
<g stroke="#0000ff"><path d="M770.6 627.7V683.3M767.7 627.7H773.5M767.7 683.3H773.5"/><circle cx="770.6" cy="655.5" r="2.7"/></g>
<g stroke="#ff69b4"><path d="M348.8 682.1V697.3M345.9 682.1H351.7M345.9 697.3H351.7"/><circle cx="348.8" cy="689.7" r="2.7"/></g>
<g stroke="#ff69b4"><path d="M357.7 682.3V699.1M354.8 682.3H360.6M354.8 699.1H360.6"/><circle cx="357.7" cy="690.7" r="2.7"/></g>
<g stroke="#ff69b4"><path d="M365.0 677.3V694.2M362.1 677.3H367.9M362.1 694.2H367.9"/><circle cx="365.0" cy="685.7" r="2.7"/></g>
<g stroke="#ff69b4"><path d="M370.7 668.9V687.4M367.8 668.9H373.6M367.8 687.4H373.6"/><circle cx="370.7" cy="678.2" r="2.7"/></g>
<g stroke="#ff69b4"><path d="M383.5 640.5V692.8M380.6 640.5H386.4M380.6 692.8H386.4"/><circle cx="383.5" cy="666.7" r="2.7"/></g>
<g stroke="#ff69b4"><path d="M394.0 656.6V671.8M391.1 656.6H396.9M391.1 671.8H396.9"/><circle cx="394.0" cy="664.2" r="2.7"/></g>
<g stroke="#ff69b4"><path d="M402.4 641.1V659.6M399.5 641.1H405.3M399.5 659.6H405.3"/><circle cx="402.4" cy="650.3" r="2.7"/></g>
<g stroke="#ff69b4"><path d="M415.0 623.5V638.7M412.1 623.5H417.9M412.1 638.7H417.9"/><circle cx="415.0" cy="631.1" r="2.7"/></g>
<g stroke="#ff69b4"><path d="M420.9 611.9V636.2M418.0 611.9H423.8M418.0 636.2H423.8"/><circle cx="420.9" cy="624.1" r="2.7"/></g>
<g stroke="#ff0000"><path d="M354.7 683.0V699.9M351.8 683.0H357.6M351.8 699.9H357.6"/><circle cx="354.7" cy="691.5" r="2.7"/></g>
<g stroke="#ff0000"><path d="M361.1 666.5V683.4M358.2 666.5H364.0M358.2 683.4H364.0"/><circle cx="361.1" cy="674.9" r="2.7"/></g>
<g stroke="#ff0000"><path d="M367.5 676.0V693.5M364.6 676.0H370.4M364.6 693.5H370.4"/><circle cx="367.5" cy="684.7" r="2.7"/></g>
<g stroke="#ff0000"><path d="M374.1 658.6V682.2M371.2 658.6H377.0M371.2 682.2H377.0"/><circle cx="374.1" cy="670.4" r="2.7"/></g>
<g stroke="#ff0000"><path d="M380.0 640.9V671.9M377.1 640.9H382.9M377.1 671.9H382.9"/><circle cx="380.0" cy="656.4" r="2.7"/></g>
<g stroke="#ff0000"><path d="M388.1 658.6V679.5M385.2 658.6H391.0M385.2 679.5H391.0"/><circle cx="388.1" cy="669.0" r="2.7"/></g>
<g stroke="#ff0000"><path d="M397.3 622.3V651.0M394.4 622.3H400.2M394.4 651.0H400.2"/><circle cx="397.3" cy="636.7" r="2.7"/></g>
<g stroke="#ff0000"><path d="M404.9 624.7V660.1M402.0 624.7H407.8M402.0 660.1H407.8"/><circle cx="404.9" cy="642.4" r="2.7"/></g>
<g stroke="#ff0000"><path d="M411.2 607.7V642.1M408.3 607.7H414.1M408.3 642.1H414.1"/><circle cx="411.2" cy="624.9" r="2.7"/></g>
<g stroke="#000000"><path d="M353.8 645.4V669.7M350.9 645.4H356.7M350.9 669.7H356.7"/><circle cx="353.8" cy="657.6" r="2.7"/></g>
<g stroke="#000000"><path d="M379.3 661.6V682.5M376.4 661.6H382.2M376.4 682.5H382.2"/><circle cx="379.3" cy="672.1" r="2.7"/></g>
<g stroke="#000000"><path d="M393.6 653.8V673.4M390.7 653.8H396.5M390.7 673.4H396.5"/><circle cx="393.6" cy="663.6" r="2.7"/></g>
<g stroke="#000000"><path d="M429.0 634.0V654.2M426.1 634.0H431.9M426.1 654.2H431.9"/><circle cx="429.0" cy="644.1" r="2.7"/></g>
</g>
<path d="M117.0 676.4H810.0" stroke="#555" stroke-width="1.4"/>
<rect x="117.0" y="20.4" width="693.0" height="213.3" fill="none" stroke="#000" stroke-width="1.8" stroke-linejoin="round"/>
<rect x="117.0" y="239.0" width="693.0" height="266.6" fill="none" stroke="#000" stroke-width="1.8" stroke-linejoin="round"/>
<rect x="117.0" y="511.2" width="693.0" height="106.7" fill="none" stroke="#000" stroke-width="1.8" stroke-linejoin="round"/>
<rect x="117.0" y="623.0" width="693.0" height="106.7" fill="none" stroke="#000" stroke-width="1.8" stroke-linejoin="round"/>
<g style="filter:grayscale(1)">
<text x="103.4" y="83.9" font-size="24.5" text-anchor="end" textLength="42.0" lengthAdjust="spacingAndGlyphs">400</text>
<text x="103.4" y="157.4" font-size="24.5" text-anchor="end" textLength="42.0" lengthAdjust="spacingAndGlyphs">200</text>
<text x="103.4" y="231.0" font-size="24.5" text-anchor="end" textLength="13.0" lengthAdjust="spacingAndGlyphs">0</text>
<text x="103.4" y="259.1" font-size="24.5" text-anchor="end" textLength="46.5" lengthAdjust="spacingAndGlyphs">17.4</text>
<text x="103.4" y="305.5" font-size="24.5" text-anchor="end" textLength="46.5" lengthAdjust="spacingAndGlyphs">17.6</text>
<text x="103.4" y="351.9" font-size="24.5" text-anchor="end" textLength="46.5" lengthAdjust="spacingAndGlyphs">17.8</text>
<text x="103.4" y="398.2" font-size="24.5" text-anchor="end" textLength="26.0" lengthAdjust="spacingAndGlyphs">18</text>
<text x="103.4" y="444.6" font-size="24.5" text-anchor="end" textLength="46.5" lengthAdjust="spacingAndGlyphs">18.2</text>
<text x="103.4" y="491.0" font-size="24.5" text-anchor="end" textLength="46.5" lengthAdjust="spacingAndGlyphs">18.4</text>
<text x="103.4" y="537.3" font-size="24.5" text-anchor="end" textLength="33.5" lengthAdjust="spacingAndGlyphs">0.1</text>
<text x="103.4" y="572.8" font-size="24.5" text-anchor="end" textLength="12.5" lengthAdjust="spacingAndGlyphs">0</text>
<text x="103.4" y="608.3" font-size="24.5" text-anchor="end" textLength="50.0" lengthAdjust="spacingAndGlyphs">−0.1</text>
<text x="103.4" y="649.1" font-size="24.5" text-anchor="end" textLength="33.5" lengthAdjust="spacingAndGlyphs">0.1</text>
<text x="103.4" y="684.6" font-size="24.5" text-anchor="end" textLength="12.5" lengthAdjust="spacingAndGlyphs">0</text>
<text x="103.4" y="720.1" font-size="24.5" text-anchor="end" textLength="50.0" lengthAdjust="spacingAndGlyphs">−0.1</text>
<text x="117.0" y="758.2" font-size="24.5" text-anchor="middle" textLength="55.5" lengthAdjust="spacingAndGlyphs">8627</text>
<text x="309.5" y="758.2" font-size="24.5" text-anchor="middle" textLength="76.7" lengthAdjust="spacingAndGlyphs">8627.5</text>
<text x="502.0" y="758.2" font-size="24.5" text-anchor="middle" textLength="55.5" lengthAdjust="spacingAndGlyphs">8628</text>
<text x="694.5" y="758.2" font-size="24.5" text-anchor="middle" textLength="76.7" lengthAdjust="spacingAndGlyphs">8628.5</text>
<text x="463.4" y="786.0" font-size="24.5" text-anchor="middle" textLength="159.0" lengthAdjust="spacingAndGlyphs">HJD−2450000</text>
<text transform="translate(45.3 216.6) rotate(-90)" font-size="24.5" text-anchor="start" textLength="133.5" lengthAdjust="spacingAndGlyphs">Cumulative</text>
<text transform="translate(38.0 372.0) rotate(-90)" font-size="24.5" text-anchor="middle" textLength="119.0" lengthAdjust="spacingAndGlyphs">Magnitude</text>
<text transform="translate(38.6 564.3) rotate(-90)" font-size="24.5" text-anchor="middle" textLength="95.0" lengthAdjust="spacingAndGlyphs">residual</text>
<text transform="translate(38.6 676.2) rotate(-90)" font-size="24.5" text-anchor="middle" textLength="94.0" lengthAdjust="spacingAndGlyphs">residual</text>
<g transform="translate(45 70.5) rotate(-90)"><text x="0" y="0" font-size="23" textLength="14" lengthAdjust="spacingAndGlyphs">Δ</text><text x="14.5" y="0" font-size="23" font-style="italic" textLength="11" lengthAdjust="spacingAndGlyphs">χ</text><text x="26" y="-8" font-size="13.5" stroke="#000" stroke-width="0.4" textLength="6.6" lengthAdjust="spacingAndGlyphs">2</text></g>
<text x="252.8" y="417.5" font-size="24.5" text-anchor="start" textLength="59.0" lengthAdjust="spacingAndGlyphs">Close</text>
<text x="252.8" y="440.7" font-size="24.5" text-anchor="start" textLength="50.0" lengthAdjust="spacingAndGlyphs">Wide</text>
<text x="254.0" y="464.3" font-size="24.5" text-anchor="start" textLength="52.0" lengthAdjust="spacingAndGlyphs">1L2S</text>
<text x="158.0" y="540.0" font-size="24.5" text-anchor="start" textLength="49.0" lengthAdjust="spacingAndGlyphs">Wide</text>
<text x="158.4" y="652.0" font-size="24.5" text-anchor="start" textLength="50.6" lengthAdjust="spacingAndGlyphs">1L2S</text>
<text x="618.6" y="65.5" font-size="25" font-style="italic" textLength="12" lengthAdjust="spacingAndGlyphs">χ</text><text x="630.6" y="59.2" font-size="13.5" stroke="#000" stroke-width="0.4" textLength="6.6" lengthAdjust="spacingAndGlyphs">2</text><text x="640.1" y="72.3" font-size="13" stroke="#000" stroke-width="0.4" textLength="31.5" lengthAdjust="spacingAndGlyphs">1L2S</text>
<path d="M684.3 58.2H698" stroke="#000" stroke-width="1.5"/>
<text x="712.6" y="65.5" font-size="25" font-style="italic" textLength="12" lengthAdjust="spacingAndGlyphs">χ</text><text x="724.6" y="59.2" font-size="13.5" stroke="#000" stroke-width="0.4" textLength="6.6" lengthAdjust="spacingAndGlyphs">2</text><text x="734.1" y="72.3" font-size="13" stroke="#000" stroke-width="0.4" textLength="36.5" lengthAdjust="spacingAndGlyphs">Close</text>
<text x="618.6" y="206.8" font-size="25" font-style="italic" textLength="12" lengthAdjust="spacingAndGlyphs">χ</text><text x="630.6" y="200.5" font-size="13.5" stroke="#000" stroke-width="0.4" textLength="6.6" lengthAdjust="spacingAndGlyphs">2</text><text x="640.1" y="213.6" font-size="13" stroke="#000" stroke-width="0.4" textLength="30.5" lengthAdjust="spacingAndGlyphs">Wide</text>
<path d="M684.3 199.9H698" stroke="#000" stroke-width="1.5"/>
<text x="712.6" y="206.8" font-size="25" font-style="italic" textLength="12" lengthAdjust="spacingAndGlyphs">χ</text><text x="724.6" y="200.5" font-size="13.5" stroke="#000" stroke-width="0.4" textLength="6.6" lengthAdjust="spacingAndGlyphs">2</text><text x="734.1" y="213.6" font-size="13" stroke="#000" stroke-width="0.4" textLength="36.5" lengthAdjust="spacingAndGlyphs">Close</text>
</g>
</svg></body></html>
